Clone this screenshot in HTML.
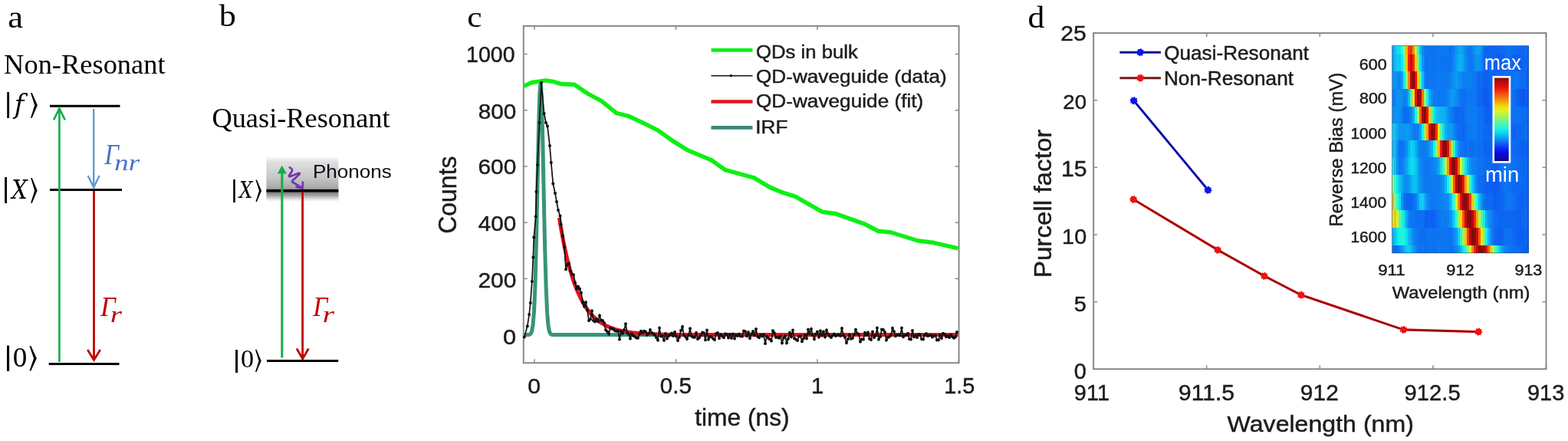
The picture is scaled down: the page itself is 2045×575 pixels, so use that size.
<!DOCTYPE html>
<html><head><meta charset="utf-8"><title>Figure</title>
<style>html,body{margin:0;padding:0;background:#fff;width:2045px;height:575px;overflow:hidden} svg{display:block}</style>
</head><body>
<svg width="2045" height="575" viewBox="0 0 2045 575"><line x1="65.00" y1="138.20" x2="156.50" y2="138.20" stroke="#000" stroke-width="3" />
<line x1="65.00" y1="247.40" x2="159.00" y2="247.40" stroke="#000" stroke-width="3" />
<line x1="63.70" y1="474.60" x2="155.50" y2="474.60" stroke="#000" stroke-width="3" />
<line x1="77.40" y1="472.00" x2="77.40" y2="141.50" stroke="#12ad4c" stroke-width="2.6" />
<polyline points="70.00,156.40 77.40,141.50 84.80,156.40" stroke="#12ad4c" stroke-width="2.6" fill="none"/>
<line x1="122.20" y1="142.00" x2="122.20" y2="244.00" stroke="#5b9bd5" stroke-width="2.4" />
<polyline points="114.70,229.00 122.20,244.30 129.70,229.00" stroke="#5b9bd5" stroke-width="2.4" fill="none"/>
<line x1="122.50" y1="249.00" x2="122.50" y2="468.00" stroke="#c00000" stroke-width="2.8" />
<polyline points="114.20,456.00 122.50,469.40 130.80,456.00" stroke="#c00000" stroke-width="2.8" fill="none"/>
<defs>
<linearGradient id="gb" x1="0" y1="0" x2="0" y2="1">
<stop offset="0" stop-color="#fafafa"/>
<stop offset="0.12" stop-color="#dedede"/>
<stop offset="0.45" stop-color="#c8c8c8"/>
<stop offset="0.68" stop-color="#aaaaaa"/>
<stop offset="0.76" stop-color="#707070"/>
<stop offset="0.86" stop-color="#a4a4a4"/>
<stop offset="0.95" stop-color="#e6e6e6"/>
<stop offset="1" stop-color="#ffffff"/>
</linearGradient>
</defs>
<rect x="347.4" y="204.8" width="94" height="58.2" fill="url(#gb)"/>
<line x1="347.40" y1="248.80" x2="441.40" y2="248.80" stroke="#000" stroke-width="3.5" />
<line x1="367.80" y1="466.40" x2="367.80" y2="222.00" stroke="#12ad4c" stroke-width="3.0" />
<polygon points="361.7,226.5 367.8,215.7 373.9,226.5" fill="#12ad4c"/>
<path d="M377.8,218.3 Q382.5,221 380.6,223.4 L377,229 Q376.5,230.6 378.6,229.9 L389.6,225.8 Q391.8,225.6 390.2,227.6 L381.4,235.6 Q380.2,237.2 382.4,238 L393.6,244.6" fill="none" stroke="#7434b0" stroke-width="2.7" stroke-linejoin="round" stroke-linecap="round"/>
<polyline points="386.6,243.8 394.6,245.6 395.0,237.6" fill="none" stroke="#7434b0" stroke-width="2.7" stroke-linejoin="round" stroke-linecap="round"/>
<line x1="394.60" y1="250.00" x2="394.60" y2="466.00" stroke="#c00000" stroke-width="2.8" />
<polyline points="387.00,454.50 394.70,468.00 402.40,454.50" stroke="#c00000" stroke-width="2.8" fill="none"/>
<line x1="348.00" y1="470.50" x2="441.20" y2="470.50" stroke="#000" stroke-width="3" />
<rect x="682.8" y="33.9" width="567.8" height="439.3" fill="none" stroke="#858585" stroke-width="1.9"/>
<line x1="682.80" y1="436.59" x2="687.80" y2="436.59" stroke="#858585" stroke-width="1.4" />
<line x1="1250.60" y1="436.59" x2="1245.60" y2="436.59" stroke="#858585" stroke-width="1.4" />
<line x1="682.80" y1="363.38" x2="687.80" y2="363.38" stroke="#858585" stroke-width="1.4" />
<line x1="1250.60" y1="363.38" x2="1245.60" y2="363.38" stroke="#858585" stroke-width="1.4" />
<line x1="682.80" y1="290.16" x2="687.80" y2="290.16" stroke="#858585" stroke-width="1.4" />
<line x1="1250.60" y1="290.16" x2="1245.60" y2="290.16" stroke="#858585" stroke-width="1.4" />
<line x1="682.80" y1="216.94" x2="687.80" y2="216.94" stroke="#858585" stroke-width="1.4" />
<line x1="1250.60" y1="216.94" x2="1245.60" y2="216.94" stroke="#858585" stroke-width="1.4" />
<line x1="682.80" y1="143.72" x2="687.80" y2="143.72" stroke="#858585" stroke-width="1.4" />
<line x1="1250.60" y1="143.72" x2="1245.60" y2="143.72" stroke="#858585" stroke-width="1.4" />
<line x1="682.80" y1="70.51" x2="687.80" y2="70.51" stroke="#858585" stroke-width="1.4" />
<line x1="1250.60" y1="70.51" x2="1245.60" y2="70.51" stroke="#858585" stroke-width="1.4" />
<line x1="697.00" y1="473.20" x2="697.00" y2="468.20" stroke="#858585" stroke-width="1.4" />
<line x1="697.00" y1="33.90" x2="697.00" y2="38.90" stroke="#858585" stroke-width="1.4" />
<line x1="881.50" y1="473.20" x2="881.50" y2="468.20" stroke="#858585" stroke-width="1.4" />
<line x1="881.50" y1="33.90" x2="881.50" y2="38.90" stroke="#858585" stroke-width="1.4" />
<line x1="1066.00" y1="473.20" x2="1066.00" y2="468.20" stroke="#858585" stroke-width="1.4" />
<line x1="1066.00" y1="33.90" x2="1066.00" y2="38.90" stroke="#858585" stroke-width="1.4" />
<line x1="1250.50" y1="473.20" x2="1250.50" y2="468.20" stroke="#858585" stroke-width="1.4" />
<line x1="1250.50" y1="33.90" x2="1250.50" y2="38.90" stroke="#858585" stroke-width="1.4" />
<polyline points="683.8,436.6 685.2,436.6 686.6,436.6 688.1,436.6 689.5,436.5 690.9,436.1 692.3,434.9 693.7,431.5 695.1,423.0 696.6,404.8 698.0,371.2 699.4,318.7 700.8,250.6 702.2,179.5 703.7,125.2 705.1,106.1 706.5,129.2 707.9,186.2 709.3,257.8 710.7,324.8 712.2,375.3 713.6,407.2 715.0,424.2 716.4,432.0 717.8,435.1 719.3,436.2 720.7,436.5 722.1,436.6 723.5,436.6 724.9,436.6 726.3,436.6 727.8,436.6 729.2,436.6 730.6,436.6 732.0,436.6 733.4,436.6 734.8,436.6 736.3,436.6 737.7,436.6 739.1,436.6 740.5,436.6 741.9,436.6 743.4,436.6 744.8,436.6 746.2,436.6 747.6,436.6 749.0,436.6 750.4,436.6 751.9,436.6 753.3,436.6 754.7,436.6 756.1,436.6 757.5,436.6 759.0,436.6 760.4,436.6 761.8,436.6 763.2,436.6 764.6,436.6 766.0,436.6 767.5,436.6 768.9,436.6 770.3,436.6 771.7,436.6 773.1,436.6 774.6,436.6 776.0,436.6 777.4,436.6 778.8,436.6 780.2,436.6 781.6,436.6 783.1,436.6 784.5,436.6 785.9,436.6 787.3,436.6 788.7,436.6 790.2,436.6 791.6,436.6 793.0,436.6 794.4,436.6 795.8,436.6 797.2,436.6 798.7,436.6 800.1,436.6 801.5,436.6 802.9,436.6 804.3,436.6 805.8,436.6 807.2,436.6 808.6,436.6 810.0,436.6 811.4,436.6 812.8,436.6 814.3,436.6 815.7,436.6 817.1,436.6 818.5,436.6 819.9,436.6 821.4,436.6 822.8,436.6 824.2,436.6 825.6,436.6 827.0,436.6 828.4,436.6 829.9,436.6 831.3,436.6 832.7,436.6 834.1,436.6 835.5,436.6 836.9,436.6 838.4,436.6 839.8,436.6 841.2,436.6 842.6,436.6 844.0,436.6 845.5,436.6 846.9,436.6 848.3,436.6 849.7,436.6 851.1,436.6 852.5,436.6 854.0,436.6 855.4,436.6 856.8,436.6 858.2,436.6 859.6,436.6 861.1,436.6 862.5,436.6 863.9,436.6 865.3,436.6 866.7,436.6 868.1,436.6 869.6,436.6 871.0,436.6 872.4,436.6 873.8,436.6 875.2,436.6 876.7,436.6 878.1,436.6 879.5,436.6 880.9,436.6 882.3,436.6 883.7,436.6 885.2,436.6 886.6,436.6 888.0,436.6 889.4,436.6 890.8,436.6 892.3,436.6 893.7,436.6 895.1,436.6 896.5,436.6 897.9,436.6 899.3,436.6 900.8,436.6 902.2,436.6 903.6,436.6 905.0,436.6 906.4,436.6 907.9,436.6 909.3,436.6 910.7,436.6 912.1,436.6 913.5,436.6 914.9,436.6 916.4,436.6 917.8,436.6 919.2,436.6 920.6,436.6 922.0,436.6 923.4,436.6 924.9,436.6 926.3,436.6 927.7,436.6 929.1,436.6 930.5,436.6 932.0,436.6 933.4,436.6 934.8,436.6 936.2,436.6 937.6,436.6 939.0,436.6 940.5,436.6 941.9,436.6 943.3,436.6 944.7,436.6 946.1,436.6 947.6,436.6 949.0,436.6 950.4,436.6 951.8,436.6 953.2,436.6 954.6,436.6 956.1,436.6 957.5,436.6 958.9,436.6 960.3,436.6 961.7,436.6 963.2,436.6 964.6,436.6 966.0,436.6 967.4,436.6 968.8,436.6 970.2,436.6 971.7,436.6 973.1,436.6 974.5,436.6 975.9,436.6 977.3,436.6 978.8,436.6 980.2,436.6 981.6,436.6 983.0,436.6 984.4,436.6 985.8,436.6 987.3,436.6 988.7,436.6 990.1,436.6 991.5,436.6 992.9,436.6 994.4,436.6 995.8,436.6 997.2,436.6 998.6,436.6 1000.0,436.6 1001.4,436.6 1002.9,436.6 1004.3,436.6 1005.7,436.6 1007.1,436.6 1008.5,436.6 1010.0,436.6 1011.4,436.6 1012.8,436.6 1014.2,436.6 1015.6,436.6 1017.0,436.6 1018.5,436.6 1019.9,436.6 1021.3,436.6 1022.7,436.6 1024.1,436.6 1025.5,436.6 1027.0,436.6 1028.4,436.6 1029.8,436.6 1031.2,436.6 1032.6,436.6 1034.1,436.6 1035.5,436.6 1036.9,436.6 1038.3,436.6 1039.7,436.6 1041.1,436.6 1042.6,436.6 1044.0,436.6 1045.4,436.6 1046.8,436.6 1048.2,436.6 1049.7,436.6 1051.1,436.6 1052.5,436.6 1053.9,436.6 1055.3,436.6 1056.7,436.6 1058.2,436.6 1059.6,436.6 1061.0,436.6 1062.4,436.6 1063.8,436.6 1065.3,436.6 1066.7,436.6 1068.1,436.6 1069.5,436.6 1070.9,436.6 1072.3,436.6 1073.8,436.6 1075.2,436.6 1076.6,436.6 1078.0,436.6 1079.4,436.6 1080.9,436.6 1082.3,436.6 1083.7,436.6 1085.1,436.6 1086.5,436.6 1087.9,436.6 1089.4,436.6 1090.8,436.6 1092.2,436.6 1093.6,436.6 1095.0,436.6 1096.5,436.6 1097.9,436.6 1099.3,436.6 1100.7,436.6 1102.1,436.6 1103.5,436.6 1105.0,436.6 1106.4,436.6 1107.8,436.6 1109.2,436.6 1110.6,436.6 1112.0,436.6 1113.5,436.6 1114.9,436.6 1116.3,436.6 1117.7,436.6 1119.1,436.6 1120.6,436.6 1122.0,436.6 1123.4,436.6 1124.8,436.6 1126.2,436.6 1127.6,436.6 1129.1,436.6 1130.5,436.6 1131.9,436.6 1133.3,436.6 1134.7,436.6 1136.2,436.6 1137.6,436.6 1139.0,436.6 1140.4,436.6 1141.8,436.6 1143.2,436.6 1144.7,436.6 1146.1,436.6 1147.5,436.6 1148.9,436.6 1150.3,436.6 1151.8,436.6 1153.2,436.6 1154.6,436.6 1156.0,436.6 1157.4,436.6 1158.8,436.6 1160.3,436.6 1161.7,436.6 1163.1,436.6 1164.5,436.6 1165.9,436.6 1167.4,436.6 1168.8,436.6 1170.2,436.6 1171.6,436.6 1173.0,436.6 1174.4,436.6 1175.9,436.6 1177.3,436.6 1178.7,436.6 1180.1,436.6 1181.5,436.6 1183.0,436.6 1184.4,436.6 1185.8,436.6 1187.2,436.6 1188.6,436.6 1190.0,436.6 1191.5,436.6 1192.9,436.6 1194.3,436.6 1195.7,436.6 1197.1,436.6 1198.6,436.6 1200.0,436.6 1201.4,436.6 1202.8,436.6 1204.2,436.6 1205.6,436.6 1207.1,436.6 1208.5,436.6 1209.9,436.6 1211.3,436.6 1212.7,436.6 1214.1,436.6 1215.6,436.6 1217.0,436.6 1218.4,436.6 1219.8,436.6 1221.2,436.6 1222.7,436.6 1224.1,436.6 1225.5,436.6 1226.9,436.6 1228.3,436.6 1229.7,436.6 1231.2,436.6 1232.6,436.6 1234.0,436.6 1235.4,436.6 1236.8,436.6 1238.3,436.6 1239.7,436.6 1241.1,436.6 1242.5,436.6 1243.9,436.6 1245.3,436.6 1246.8,436.6 1248.2,436.6 1249.6,436.6" fill="none" stroke="#38947a" stroke-width="5"/>
<polyline points="729.4,283.9 731.1,294.6 732.9,304.5 734.6,313.8 736.4,322.4 738.1,330.3 739.8,337.8 741.6,344.7 743.3,351.1 745.1,357.1 746.8,362.7 748.5,367.8 750.3,372.6 752.0,377.1 753.8,381.3 755.5,385.1 757.2,388.7 759.0,392.1 760.7,395.2 762.5,398.1 764.2,400.8 765.9,403.3 767.7,405.6 769.4,407.8 771.2,409.8 772.9,411.7 774.6,413.4 776.4,415.0 778.1,416.5 779.9,417.9 781.6,419.2 783.3,420.5 785.1,421.6 786.8,422.6 788.6,423.6 790.3,424.5 792.0,425.4 793.8,426.1 795.5,426.9 797.3,427.6 799.0,428.2 800.7,428.8 802.5,429.3 804.2,429.8 806.0,430.3 807.7,430.7 809.4,431.2 811.2,431.5 812.9,431.9 814.7,432.2 816.4,432.5 818.1,432.8 819.9,433.1 821.6,433.3 823.3,433.5 825.1,433.8 826.8,434.0 828.6,434.1 830.3,434.3 832.0,434.5 833.8,434.6 835.5,434.8 837.3,434.9 839.0,435.0 840.7,435.1 842.5,435.2 844.2,435.3 846.0,435.4 847.7,435.5 849.4,435.6 851.2,435.6 852.9,435.7 854.7,435.8 856.4,435.8 858.1,435.9 859.9,435.9 861.6,436.0 863.4,436.0 865.1,436.1 866.8,436.1 868.6,436.1 870.3,436.2 872.1,436.2 873.8,436.2 875.5,436.2 877.3,436.3 879.0,436.3 880.8,436.3 882.5,436.3 884.2,436.4 886.0,436.4 887.7,436.4 889.5,436.4 891.2,436.4 892.9,436.4 894.7,436.4 896.4,436.4 898.2,436.5 899.9,436.5 901.6,436.5 903.4,436.5 905.1,436.5 906.9,436.5 908.6,436.5 910.3,436.5 912.1,436.5 913.8,436.5 915.6,436.5 917.3,436.5 919.0,436.5 920.8,436.5 922.5,436.5 924.3,436.5 926.0,436.5 927.7,436.6 929.5,436.6 931.2,436.6 933.0,436.6 934.7,436.6 936.4,436.6 938.2,436.6 939.9,436.6 941.7,436.6 943.4,436.6 945.1,436.6 946.9,436.6 948.6,436.6 950.4,436.6 952.1,436.6 953.8,436.6 955.6,436.6 957.3,436.6 959.1,436.6 960.8,436.6 962.5,436.6 964.3,436.6 966.0,436.6 967.8,436.6 969.5,436.6 971.2,436.6 973.0,436.6 974.7,436.6 976.5,436.6 978.2,436.6 979.9,436.6 981.7,436.6 983.4,436.6 985.2,436.6 986.9,436.6 988.6,436.6 990.4,436.6 992.1,436.6 993.8,436.6 995.6,436.6 997.3,436.6 999.1,436.6 1000.8,436.6 1002.5,436.6 1004.3,436.6 1006.0,436.6 1007.8,436.6 1009.5,436.6 1011.2,436.6 1013.0,436.6 1014.7,436.6 1016.5,436.6 1018.2,436.6 1019.9,436.6 1021.7,436.6 1023.4,436.6 1025.2,436.6 1026.9,436.6 1028.6,436.6 1030.4,436.6 1032.1,436.6 1033.9,436.6 1035.6,436.6 1037.3,436.6 1039.1,436.6 1040.8,436.6 1042.6,436.6 1044.3,436.6 1046.0,436.6 1047.8,436.6 1049.5,436.6 1051.3,436.6 1053.0,436.6 1054.7,436.6 1056.5,436.6 1058.2,436.6 1060.0,436.6 1061.7,436.6 1063.4,436.6 1065.2,436.6 1066.9,436.6 1068.7,436.6 1070.4,436.6 1072.1,436.6 1073.9,436.6 1075.6,436.6 1077.4,436.6 1079.1,436.6 1080.8,436.6 1082.6,436.6 1084.3,436.6 1086.1,436.6 1087.8,436.6 1089.5,436.6 1091.3,436.6 1093.0,436.6 1094.8,436.6 1096.5,436.6 1098.2,436.6 1100.0,436.6 1101.7,436.6 1103.5,436.6 1105.2,436.6 1106.9,436.6 1108.7,436.6 1110.4,436.6 1112.2,436.6 1113.9,436.6 1115.6,436.6 1117.4,436.6 1119.1,436.6 1120.9,436.6 1122.6,436.6 1124.3,436.6 1126.1,436.6 1127.8,436.6 1129.6,436.6 1131.3,436.6 1133.0,436.6 1134.8,436.6 1136.5,436.6 1138.3,436.6 1140.0,436.6 1141.7,436.6 1143.5,436.6 1145.2,436.6 1147.0,436.6 1148.7,436.6 1150.4,436.6 1152.2,436.6 1153.9,436.6 1155.7,436.6 1157.4,436.6 1159.1,436.6 1160.9,436.6 1162.6,436.6 1164.3,436.6 1166.1,436.6 1167.8,436.6 1169.6,436.6 1171.3,436.6 1173.0,436.6 1174.8,436.6 1176.5,436.6 1178.3,436.6 1180.0,436.6 1181.7,436.6 1183.5,436.6 1185.2,436.6 1187.0,436.6 1188.7,436.6 1190.4,436.6 1192.2,436.6 1193.9,436.6 1195.7,436.6 1197.4,436.6 1199.1,436.6 1200.9,436.6 1202.6,436.6 1204.4,436.6 1206.1,436.6 1207.8,436.6 1209.6,436.6 1211.3,436.6 1213.1,436.6 1214.8,436.6 1216.5,436.6 1218.3,436.6 1220.0,436.6 1221.8,436.6 1223.5,436.6 1225.2,436.6 1227.0,436.6 1228.7,436.6 1230.5,436.6 1232.2,436.6 1233.9,436.6 1235.7,436.6 1237.4,436.6 1239.2,436.6 1240.9,436.6 1242.6,436.6 1244.4,436.6 1246.1,436.6 1247.9,436.6 1249.6,436.6" fill="none" stroke="#e0141c" stroke-width="5"/>
<polyline points="683.5,112.2 693.0,107.7 711.3,104.9 721.7,106.4 732.2,109.6 749.1,110.3 766.1,121.8 784.4,131.7 803.9,147.4 819.6,151.3 839.1,160.4 857.4,169.6 875.7,182.6 896.5,195.7 927.8,208.7 946.1,221.7 960.0,225.3 983.5,231.8 1004.4,244.4 1020.0,250.9 1037.0,256.1 1072.2,276.2 1090.4,278.8 1127.0,291.8 1145.2,301.2 1162.2,303.0 1197.4,314.0 1218.3,316.6 1249.6,323.9" fill="none" stroke="#0cf014" stroke-width="5.5" stroke-linejoin="round"/>
<polyline points="683.8,439.5 687.8,425.3 690.2,410.0 691.8,394.9 693.9,366.9 695.4,335.5 696.3,309.6 698.8,282.2 699.5,250.0 701.0,215.0 703.5,160.0 706.0,107.8 709.6,148.0 712.0,160.0 714.0,164.5 717.0,190.0 718.8,212.0 721.3,239.5 724.0,252.0 726.0,263.0 728.0,274.0 730.5,281.6 731.6,292.6 734.0,308.0 736.0,321.9 738.0,351.3 740.0,344.4 742.0,343.6 744.0,353.4 746.0,357.5 748.0,358.2 750.0,368.4 752.0,376.5 754.0,373.5 756.0,376.4 758.0,381.7 760.0,394.2 762.0,399.6 764.0,394.2 766.0,404.4 768.0,418.0 770.0,416.2 772.0,405.2 774.0,418.0 776.0,419.5 778.0,416.0 780.0,419.2 782.0,411.4 784.0,417.5 786.0,417.9 788.0,420.9 790.0,430.3 792.0,432.2 794.0,435.5 796.0,427.7 798.0,428.4 800.0,428.7 802.0,431.3 804.0,431.7 806.0,431.4 808.0,442.5 810.0,431.9 812.0,434.8 814.0,429.9 816.0,422.3 818.0,434.0 820.0,435.7 822.0,441.6 824.0,435.2 826.0,437.7 828.0,438.8 830.0,440.6 832.0,440.8 834.0,435.4 836.0,431.7 838.0,433.9 840.0,431.7 842.0,432.5 844.0,436.7 846.0,434.7 848.0,430.0 850.0,434.0 852.0,435.1 854.0,436.7 856.0,440.2 858.0,443.6 860.0,427.6 862.0,438.4 864.0,437.9 866.0,443.7 868.0,435.2 870.0,441.5 872.0,437.9 874.0,436.3 876.0,434.6 878.0,437.9 880.0,432.9 882.0,438.4 884.0,443.9 886.0,439.7 888.0,431.1 890.0,425.9 892.0,437.0 894.0,439.1 896.0,442.1 898.0,436.9 900.0,428.3 902.0,438.3 904.0,439.8 906.0,439.7 908.0,434.0 910.0,442.1 912.0,440.2 914.0,437.5 916.0,433.4 918.0,434.3 920.0,443.2 922.0,430.4 924.0,442.6 926.0,439.0 928.0,439.0 930.0,441.6 932.0,442.9 934.0,434.9 936.0,434.1 938.0,441.1 940.0,436.0 942.0,438.2 944.0,440.2 946.0,435.2 948.0,436.1 950.0,440.4 952.0,435.8 954.0,440.7 956.0,435.5 958.0,441.4 960.0,436.7 962.0,437.9 964.0,435.6 966.0,438.5 968.0,438.5 970.0,431.4 972.0,432.2 974.0,438.2 976.0,433.3 978.0,440.9 980.0,435.6 982.0,432.1 984.0,437.2 986.0,429.1 988.0,438.8 990.0,440.2 992.0,436.6 994.0,438.6 996.0,435.9 998.0,448.1 1000.0,438.8 1002.0,440.8 1004.0,442.3 1006.0,444.6 1008.0,431.3 1010.0,434.3 1012.0,440.1 1014.0,439.6 1016.0,440.8 1018.0,438.6 1020.0,447.3 1022.0,440.8 1024.0,438.0 1026.0,447.2 1028.0,441.7 1030.0,433.7 1032.0,439.3 1034.0,430.6 1036.0,441.3 1038.0,442.4 1040.0,444.1 1042.0,438.6 1044.0,438.3 1046.0,445.2 1048.0,441.3 1050.0,436.9 1052.0,441.2 1054.0,429.8 1056.0,434.9 1058.0,428.9 1060.0,437.1 1062.0,442.2 1064.0,435.5 1066.0,432.5 1068.0,439.4 1070.0,431.5 1072.0,437.6 1074.0,432.6 1076.0,439.3 1078.0,430.4 1080.0,435.4 1082.0,438.2 1084.0,440.1 1086.0,437.3 1088.0,435.6 1090.0,437.9 1092.0,437.1 1094.0,436.5 1096.0,438.1 1098.0,428.0 1100.0,437.2 1102.0,439.8 1104.0,447.1 1106.0,442.1 1108.0,436.8 1110.0,441.7 1112.0,440.7 1114.0,436.1 1116.0,429.8 1118.0,434.5 1120.0,435.7 1122.0,445.4 1124.0,442.2 1126.0,442.5 1128.0,433.7 1130.0,436.8 1132.0,433.5 1134.0,441.7 1136.0,442.9 1138.0,432.5 1140.0,440.0 1142.0,437.7 1144.0,427.6 1146.0,442.5 1148.0,438.9 1150.0,429.5 1152.0,429.9 1154.0,433.1 1156.0,443.5 1158.0,440.1 1160.0,438.9 1162.0,437.0 1164.0,427.8 1166.0,432.2 1168.0,438.3 1170.0,436.7 1172.0,436.5 1174.0,437.5 1176.0,427.6 1178.0,439.2 1180.0,437.3 1182.0,436.8 1184.0,434.7 1186.0,442.1 1188.0,442.5 1190.0,431.1 1192.0,439.3 1194.0,437.3 1196.0,440.0 1198.0,435.9 1200.0,436.6 1202.0,442.1 1204.0,442.5 1206.0,436.8 1208.0,435.1 1210.0,437.9 1212.0,437.6 1214.0,437.0 1216.0,439.5 1218.0,437.7 1220.0,437.4 1222.0,443.6 1224.0,443.2 1226.0,436.7 1228.0,441.0 1230.0,434.7 1232.0,435.8 1234.0,439.2 1236.0,438.1 1238.0,440.1 1240.0,436.5 1242.0,438.9 1244.0,440.8 1246.0,439.5 1248.0,432.9" fill="none" stroke="#111" stroke-width="1.7"/>
<g fill="#111"><circle cx="683.8" cy="439.5" r="2.0"/><circle cx="687.8" cy="425.3" r="2.0"/><circle cx="690.2" cy="410.0" r="2.0"/><circle cx="691.8" cy="394.9" r="2.0"/><circle cx="693.9" cy="366.9" r="2.0"/><circle cx="695.4" cy="335.5" r="2.0"/><circle cx="696.3" cy="309.6" r="2.0"/><circle cx="698.8" cy="282.2" r="2.0"/><circle cx="699.5" cy="250.0" r="2.0"/><circle cx="701.0" cy="215.0" r="2.0"/><circle cx="703.5" cy="160.0" r="2.0"/><circle cx="706.0" cy="107.8" r="2.0"/><circle cx="709.6" cy="148.0" r="2.0"/><circle cx="712.0" cy="160.0" r="2.0"/><circle cx="714.0" cy="164.5" r="2.0"/><circle cx="717.0" cy="190.0" r="2.0"/><circle cx="718.8" cy="212.0" r="2.0"/><circle cx="721.3" cy="239.5" r="2.0"/><circle cx="724.0" cy="252.0" r="2.0"/><circle cx="726.0" cy="263.0" r="2.0"/><circle cx="728.0" cy="274.0" r="2.0"/><circle cx="730.5" cy="281.6" r="2.0"/><circle cx="731.6" cy="292.6" r="2.0"/><circle cx="734.0" cy="308.0" r="2.0"/><circle cx="736.0" cy="321.9" r="2.0"/><circle cx="738.0" cy="351.3" r="2.0"/><circle cx="740.0" cy="344.4" r="2.0"/><circle cx="742.0" cy="343.6" r="2.0"/><circle cx="744.0" cy="353.4" r="2.0"/><circle cx="746.0" cy="357.5" r="2.0"/><circle cx="748.0" cy="358.2" r="2.0"/><circle cx="750.0" cy="368.4" r="2.0"/><circle cx="752.0" cy="376.5" r="2.0"/><circle cx="754.0" cy="373.5" r="2.0"/><circle cx="756.0" cy="376.4" r="2.0"/><circle cx="758.0" cy="381.7" r="2.0"/><circle cx="760.0" cy="394.2" r="2.0"/><circle cx="762.0" cy="399.6" r="2.0"/><circle cx="764.0" cy="394.2" r="2.0"/><circle cx="766.0" cy="404.4" r="2.0"/><circle cx="768.0" cy="418.0" r="2.0"/><circle cx="770.0" cy="416.2" r="2.0"/><circle cx="772.0" cy="405.2" r="2.0"/><circle cx="774.0" cy="418.0" r="2.0"/><circle cx="776.0" cy="419.5" r="2.0"/><circle cx="778.0" cy="416.0" r="2.0"/><circle cx="780.0" cy="419.2" r="2.0"/><circle cx="782.0" cy="411.4" r="2.0"/><circle cx="784.0" cy="417.5" r="2.0"/><circle cx="786.0" cy="417.9" r="2.0"/><circle cx="788.0" cy="420.9" r="2.0"/><circle cx="790.0" cy="430.3" r="2.0"/><circle cx="792.0" cy="432.2" r="2.0"/><circle cx="794.0" cy="435.5" r="2.0"/><circle cx="796.0" cy="427.7" r="2.0"/><circle cx="798.0" cy="428.4" r="2.0"/><circle cx="800.0" cy="428.7" r="2.0"/><circle cx="802.0" cy="431.3" r="2.0"/><circle cx="804.0" cy="431.7" r="2.0"/><circle cx="806.0" cy="431.4" r="2.0"/><circle cx="808.0" cy="442.5" r="2.0"/><circle cx="810.0" cy="431.9" r="2.0"/><circle cx="812.0" cy="434.8" r="2.0"/><circle cx="814.0" cy="429.9" r="2.0"/><circle cx="816.0" cy="422.3" r="2.0"/><circle cx="818.0" cy="434.0" r="2.0"/><circle cx="820.0" cy="435.7" r="2.0"/><circle cx="822.0" cy="441.6" r="2.0"/><circle cx="824.0" cy="435.2" r="2.0"/><circle cx="826.0" cy="437.7" r="2.0"/><circle cx="828.0" cy="438.8" r="2.0"/><circle cx="830.0" cy="440.6" r="2.0"/><circle cx="832.0" cy="440.8" r="2.0"/><circle cx="834.0" cy="435.4" r="2.0"/><circle cx="836.0" cy="431.7" r="2.0"/><circle cx="838.0" cy="433.9" r="2.0"/><circle cx="840.0" cy="431.7" r="2.0"/><circle cx="842.0" cy="432.5" r="2.0"/><circle cx="844.0" cy="436.7" r="2.0"/><circle cx="846.0" cy="434.7" r="2.0"/><circle cx="848.0" cy="430.0" r="2.0"/><circle cx="850.0" cy="434.0" r="2.0"/><circle cx="852.0" cy="435.1" r="2.0"/><circle cx="854.0" cy="436.7" r="2.0"/><circle cx="856.0" cy="440.2" r="2.0"/><circle cx="858.0" cy="443.6" r="2.0"/><circle cx="860.0" cy="427.6" r="2.0"/><circle cx="862.0" cy="438.4" r="2.0"/><circle cx="864.0" cy="437.9" r="2.0"/><circle cx="866.0" cy="443.7" r="2.0"/><circle cx="868.0" cy="435.2" r="2.0"/><circle cx="870.0" cy="441.5" r="2.0"/><circle cx="872.0" cy="437.9" r="2.0"/><circle cx="874.0" cy="436.3" r="2.0"/><circle cx="876.0" cy="434.6" r="2.0"/><circle cx="878.0" cy="437.9" r="2.0"/><circle cx="880.0" cy="432.9" r="2.0"/><circle cx="882.0" cy="438.4" r="2.0"/><circle cx="884.0" cy="443.9" r="2.0"/><circle cx="886.0" cy="439.7" r="2.0"/><circle cx="888.0" cy="431.1" r="2.0"/><circle cx="890.0" cy="425.9" r="2.0"/><circle cx="892.0" cy="437.0" r="2.0"/><circle cx="894.0" cy="439.1" r="2.0"/><circle cx="896.0" cy="442.1" r="2.0"/><circle cx="898.0" cy="436.9" r="2.0"/><circle cx="900.0" cy="428.3" r="2.0"/><circle cx="902.0" cy="438.3" r="2.0"/><circle cx="904.0" cy="439.8" r="2.0"/><circle cx="906.0" cy="439.7" r="2.0"/><circle cx="908.0" cy="434.0" r="2.0"/><circle cx="910.0" cy="442.1" r="2.0"/><circle cx="912.0" cy="440.2" r="2.0"/><circle cx="914.0" cy="437.5" r="2.0"/><circle cx="916.0" cy="433.4" r="2.0"/><circle cx="918.0" cy="434.3" r="2.0"/><circle cx="920.0" cy="443.2" r="2.0"/><circle cx="922.0" cy="430.4" r="2.0"/><circle cx="924.0" cy="442.6" r="2.0"/><circle cx="926.0" cy="439.0" r="2.0"/><circle cx="928.0" cy="439.0" r="2.0"/><circle cx="930.0" cy="441.6" r="2.0"/><circle cx="932.0" cy="442.9" r="2.0"/><circle cx="934.0" cy="434.9" r="2.0"/><circle cx="936.0" cy="434.1" r="2.0"/><circle cx="938.0" cy="441.1" r="2.0"/><circle cx="940.0" cy="436.0" r="2.0"/><circle cx="942.0" cy="438.2" r="2.0"/><circle cx="944.0" cy="440.2" r="2.0"/><circle cx="946.0" cy="435.2" r="2.0"/><circle cx="948.0" cy="436.1" r="2.0"/><circle cx="950.0" cy="440.4" r="2.0"/><circle cx="952.0" cy="435.8" r="2.0"/><circle cx="954.0" cy="440.7" r="2.0"/><circle cx="956.0" cy="435.5" r="2.0"/><circle cx="958.0" cy="441.4" r="2.0"/><circle cx="960.0" cy="436.7" r="2.0"/><circle cx="962.0" cy="437.9" r="2.0"/><circle cx="964.0" cy="435.6" r="2.0"/><circle cx="966.0" cy="438.5" r="2.0"/><circle cx="968.0" cy="438.5" r="2.0"/><circle cx="970.0" cy="431.4" r="2.0"/><circle cx="972.0" cy="432.2" r="2.0"/><circle cx="974.0" cy="438.2" r="2.0"/><circle cx="976.0" cy="433.3" r="2.0"/><circle cx="978.0" cy="440.9" r="2.0"/><circle cx="980.0" cy="435.6" r="2.0"/><circle cx="982.0" cy="432.1" r="2.0"/><circle cx="984.0" cy="437.2" r="2.0"/><circle cx="986.0" cy="429.1" r="2.0"/><circle cx="988.0" cy="438.8" r="2.0"/><circle cx="990.0" cy="440.2" r="2.0"/><circle cx="992.0" cy="436.6" r="2.0"/><circle cx="994.0" cy="438.6" r="2.0"/><circle cx="996.0" cy="435.9" r="2.0"/><circle cx="998.0" cy="448.1" r="2.0"/><circle cx="1000.0" cy="438.8" r="2.0"/><circle cx="1002.0" cy="440.8" r="2.0"/><circle cx="1004.0" cy="442.3" r="2.0"/><circle cx="1006.0" cy="444.6" r="2.0"/><circle cx="1008.0" cy="431.3" r="2.0"/><circle cx="1010.0" cy="434.3" r="2.0"/><circle cx="1012.0" cy="440.1" r="2.0"/><circle cx="1014.0" cy="439.6" r="2.0"/><circle cx="1016.0" cy="440.8" r="2.0"/><circle cx="1018.0" cy="438.6" r="2.0"/><circle cx="1020.0" cy="447.3" r="2.0"/><circle cx="1022.0" cy="440.8" r="2.0"/><circle cx="1024.0" cy="438.0" r="2.0"/><circle cx="1026.0" cy="447.2" r="2.0"/><circle cx="1028.0" cy="441.7" r="2.0"/><circle cx="1030.0" cy="433.7" r="2.0"/><circle cx="1032.0" cy="439.3" r="2.0"/><circle cx="1034.0" cy="430.6" r="2.0"/><circle cx="1036.0" cy="441.3" r="2.0"/><circle cx="1038.0" cy="442.4" r="2.0"/><circle cx="1040.0" cy="444.1" r="2.0"/><circle cx="1042.0" cy="438.6" r="2.0"/><circle cx="1044.0" cy="438.3" r="2.0"/><circle cx="1046.0" cy="445.2" r="2.0"/><circle cx="1048.0" cy="441.3" r="2.0"/><circle cx="1050.0" cy="436.9" r="2.0"/><circle cx="1052.0" cy="441.2" r="2.0"/><circle cx="1054.0" cy="429.8" r="2.0"/><circle cx="1056.0" cy="434.9" r="2.0"/><circle cx="1058.0" cy="428.9" r="2.0"/><circle cx="1060.0" cy="437.1" r="2.0"/><circle cx="1062.0" cy="442.2" r="2.0"/><circle cx="1064.0" cy="435.5" r="2.0"/><circle cx="1066.0" cy="432.5" r="2.0"/><circle cx="1068.0" cy="439.4" r="2.0"/><circle cx="1070.0" cy="431.5" r="2.0"/><circle cx="1072.0" cy="437.6" r="2.0"/><circle cx="1074.0" cy="432.6" r="2.0"/><circle cx="1076.0" cy="439.3" r="2.0"/><circle cx="1078.0" cy="430.4" r="2.0"/><circle cx="1080.0" cy="435.4" r="2.0"/><circle cx="1082.0" cy="438.2" r="2.0"/><circle cx="1084.0" cy="440.1" r="2.0"/><circle cx="1086.0" cy="437.3" r="2.0"/><circle cx="1088.0" cy="435.6" r="2.0"/><circle cx="1090.0" cy="437.9" r="2.0"/><circle cx="1092.0" cy="437.1" r="2.0"/><circle cx="1094.0" cy="436.5" r="2.0"/><circle cx="1096.0" cy="438.1" r="2.0"/><circle cx="1098.0" cy="428.0" r="2.0"/><circle cx="1100.0" cy="437.2" r="2.0"/><circle cx="1102.0" cy="439.8" r="2.0"/><circle cx="1104.0" cy="447.1" r="2.0"/><circle cx="1106.0" cy="442.1" r="2.0"/><circle cx="1108.0" cy="436.8" r="2.0"/><circle cx="1110.0" cy="441.7" r="2.0"/><circle cx="1112.0" cy="440.7" r="2.0"/><circle cx="1114.0" cy="436.1" r="2.0"/><circle cx="1116.0" cy="429.8" r="2.0"/><circle cx="1118.0" cy="434.5" r="2.0"/><circle cx="1120.0" cy="435.7" r="2.0"/><circle cx="1122.0" cy="445.4" r="2.0"/><circle cx="1124.0" cy="442.2" r="2.0"/><circle cx="1126.0" cy="442.5" r="2.0"/><circle cx="1128.0" cy="433.7" r="2.0"/><circle cx="1130.0" cy="436.8" r="2.0"/><circle cx="1132.0" cy="433.5" r="2.0"/><circle cx="1134.0" cy="441.7" r="2.0"/><circle cx="1136.0" cy="442.9" r="2.0"/><circle cx="1138.0" cy="432.5" r="2.0"/><circle cx="1140.0" cy="440.0" r="2.0"/><circle cx="1142.0" cy="437.7" r="2.0"/><circle cx="1144.0" cy="427.6" r="2.0"/><circle cx="1146.0" cy="442.5" r="2.0"/><circle cx="1148.0" cy="438.9" r="2.0"/><circle cx="1150.0" cy="429.5" r="2.0"/><circle cx="1152.0" cy="429.9" r="2.0"/><circle cx="1154.0" cy="433.1" r="2.0"/><circle cx="1156.0" cy="443.5" r="2.0"/><circle cx="1158.0" cy="440.1" r="2.0"/><circle cx="1160.0" cy="438.9" r="2.0"/><circle cx="1162.0" cy="437.0" r="2.0"/><circle cx="1164.0" cy="427.8" r="2.0"/><circle cx="1166.0" cy="432.2" r="2.0"/><circle cx="1168.0" cy="438.3" r="2.0"/><circle cx="1170.0" cy="436.7" r="2.0"/><circle cx="1172.0" cy="436.5" r="2.0"/><circle cx="1174.0" cy="437.5" r="2.0"/><circle cx="1176.0" cy="427.6" r="2.0"/><circle cx="1178.0" cy="439.2" r="2.0"/><circle cx="1180.0" cy="437.3" r="2.0"/><circle cx="1182.0" cy="436.8" r="2.0"/><circle cx="1184.0" cy="434.7" r="2.0"/><circle cx="1186.0" cy="442.1" r="2.0"/><circle cx="1188.0" cy="442.5" r="2.0"/><circle cx="1190.0" cy="431.1" r="2.0"/><circle cx="1192.0" cy="439.3" r="2.0"/><circle cx="1194.0" cy="437.3" r="2.0"/><circle cx="1196.0" cy="440.0" r="2.0"/><circle cx="1198.0" cy="435.9" r="2.0"/><circle cx="1200.0" cy="436.6" r="2.0"/><circle cx="1202.0" cy="442.1" r="2.0"/><circle cx="1204.0" cy="442.5" r="2.0"/><circle cx="1206.0" cy="436.8" r="2.0"/><circle cx="1208.0" cy="435.1" r="2.0"/><circle cx="1210.0" cy="437.9" r="2.0"/><circle cx="1212.0" cy="437.6" r="2.0"/><circle cx="1214.0" cy="437.0" r="2.0"/><circle cx="1216.0" cy="439.5" r="2.0"/><circle cx="1218.0" cy="437.7" r="2.0"/><circle cx="1220.0" cy="437.4" r="2.0"/><circle cx="1222.0" cy="443.6" r="2.0"/><circle cx="1224.0" cy="443.2" r="2.0"/><circle cx="1226.0" cy="436.7" r="2.0"/><circle cx="1228.0" cy="441.0" r="2.0"/><circle cx="1230.0" cy="434.7" r="2.0"/><circle cx="1232.0" cy="435.8" r="2.0"/><circle cx="1234.0" cy="439.2" r="2.0"/><circle cx="1236.0" cy="438.1" r="2.0"/><circle cx="1238.0" cy="440.1" r="2.0"/><circle cx="1240.0" cy="436.5" r="2.0"/><circle cx="1242.0" cy="438.9" r="2.0"/><circle cx="1244.0" cy="440.8" r="2.0"/><circle cx="1246.0" cy="439.5" r="2.0"/><circle cx="1248.0" cy="432.9" r="2.0"/></g>
<line x1="927.50" y1="65.40" x2="981.50" y2="65.40" stroke="#0cf014" stroke-width="4.6" />
<line x1="927.50" y1="98.80" x2="981.50" y2="98.80" stroke="#111" stroke-width="1.4" />
<line x1="927.50" y1="132.50" x2="981.50" y2="132.50" stroke="#e0141c" stroke-width="4.6" />
<line x1="927.50" y1="166.40" x2="981.50" y2="166.40" stroke="#38887a" stroke-width="4.6" />
<circle cx="953.4" cy="98.8" r="1.8" fill="#111"/>
<rect x="1426.2" y="43.1" width="590.3" height="438.09999999999997" fill="none" stroke="#858585" stroke-width="1.9"/>
<line x1="1426.20" y1="481.20" x2="1431.20" y2="481.20" stroke="#858585" stroke-width="1.4" />
<line x1="2016.50" y1="481.20" x2="2011.50" y2="481.20" stroke="#858585" stroke-width="1.4" />
<line x1="1426.20" y1="393.58" x2="1431.20" y2="393.58" stroke="#858585" stroke-width="1.4" />
<line x1="2016.50" y1="393.58" x2="2011.50" y2="393.58" stroke="#858585" stroke-width="1.4" />
<line x1="1426.20" y1="305.96" x2="1431.20" y2="305.96" stroke="#858585" stroke-width="1.4" />
<line x1="2016.50" y1="305.96" x2="2011.50" y2="305.96" stroke="#858585" stroke-width="1.4" />
<line x1="1426.20" y1="218.34" x2="1431.20" y2="218.34" stroke="#858585" stroke-width="1.4" />
<line x1="2016.50" y1="218.34" x2="2011.50" y2="218.34" stroke="#858585" stroke-width="1.4" />
<line x1="1426.20" y1="130.72" x2="1431.20" y2="130.72" stroke="#858585" stroke-width="1.4" />
<line x1="2016.50" y1="130.72" x2="2011.50" y2="130.72" stroke="#858585" stroke-width="1.4" />
<line x1="1426.20" y1="43.10" x2="1431.20" y2="43.10" stroke="#858585" stroke-width="1.4" />
<line x1="2016.50" y1="43.10" x2="2011.50" y2="43.10" stroke="#858585" stroke-width="1.4" />
<line x1="1426.20" y1="481.20" x2="1426.20" y2="476.20" stroke="#858585" stroke-width="1.4" />
<line x1="1426.20" y1="43.10" x2="1426.20" y2="48.10" stroke="#858585" stroke-width="1.4" />
<line x1="1573.78" y1="481.20" x2="1573.78" y2="476.20" stroke="#858585" stroke-width="1.4" />
<line x1="1573.78" y1="43.10" x2="1573.78" y2="48.10" stroke="#858585" stroke-width="1.4" />
<line x1="1721.35" y1="481.20" x2="1721.35" y2="476.20" stroke="#858585" stroke-width="1.4" />
<line x1="1721.35" y1="43.10" x2="1721.35" y2="48.10" stroke="#858585" stroke-width="1.4" />
<line x1="1868.92" y1="481.20" x2="1868.92" y2="476.20" stroke="#858585" stroke-width="1.4" />
<line x1="1868.92" y1="43.10" x2="1868.92" y2="48.10" stroke="#858585" stroke-width="1.4" />
<line x1="2016.50" y1="481.20" x2="2016.50" y2="476.20" stroke="#858585" stroke-width="1.4" />
<line x1="2016.50" y1="43.10" x2="2016.50" y2="48.10" stroke="#858585" stroke-width="1.4" />
<polyline points="1478.70,131.20 1575.50,247.80" stroke="#1414c8" stroke-width="3.0" fill="none"/>
<polyline points="1478.70,131.20 1575.50,247.80" stroke="#0a0a60" stroke-width="0.9" fill="none"/>
<polyline points="1478.30,260.00 1588.20,325.90 1649.00,359.90 1696.90,384.60 1830.50,429.90 1928.30,432.60" stroke="#d81414" stroke-width="3.2" fill="none"/>
<polyline points="1478.30,260.00 1588.20,325.90 1649.00,359.90 1696.90,384.60 1830.50,429.90 1928.30,432.60" stroke="#5a0808" stroke-width="1.0" fill="none"/>
<polygon points="1484.19,132.29 1481.69,133.20 1481.81,135.86 1479.40,134.73 1477.61,136.69 1476.70,134.19 1474.04,134.31 1475.17,131.90 1473.21,130.11 1475.71,129.20 1475.59,126.54 1478.00,127.67 1479.79,125.71 1480.70,128.21 1483.36,128.09 1482.23,130.50" fill="#0a14f0"/><circle cx="1478.7" cy="131.2" r="4.2" fill="#0a14f0"/>
<polygon points="1580.99,248.89 1578.49,249.80 1578.61,252.46 1576.20,251.33 1574.41,253.29 1573.50,250.79 1570.84,250.91 1571.97,248.50 1570.01,246.71 1572.51,245.80 1572.39,243.14 1574.80,244.27 1576.59,242.31 1577.50,244.81 1580.16,244.69 1579.03,247.10" fill="#0a14f0"/><circle cx="1575.5" cy="247.8" r="4.2" fill="#0a14f0"/>
<polygon points="1483.79,261.09 1481.29,262.00 1481.41,264.66 1479.00,263.53 1477.21,265.49 1476.30,262.99 1473.64,263.11 1474.77,260.70 1472.81,258.91 1475.31,258.00 1475.19,255.34 1477.60,256.47 1479.39,254.51 1480.30,257.01 1482.96,256.89 1481.83,259.30" fill="#f01010"/><circle cx="1478.3" cy="260" r="4.2" fill="#f01010"/>
<polygon points="1593.69,326.99 1591.19,327.90 1591.31,330.56 1588.90,329.43 1587.11,331.39 1586.20,328.89 1583.54,329.01 1584.67,326.60 1582.71,324.81 1585.21,323.90 1585.09,321.24 1587.50,322.37 1589.29,320.41 1590.20,322.91 1592.86,322.79 1591.73,325.20" fill="#f01010"/><circle cx="1588.2" cy="325.9" r="4.2" fill="#f01010"/>
<polygon points="1654.49,360.99 1651.99,361.90 1652.11,364.56 1649.70,363.43 1647.91,365.39 1647.00,362.89 1644.34,363.01 1645.47,360.60 1643.51,358.81 1646.01,357.90 1645.89,355.24 1648.30,356.37 1650.09,354.41 1651.00,356.91 1653.66,356.79 1652.53,359.20" fill="#f01010"/><circle cx="1649" cy="359.9" r="4.2" fill="#f01010"/>
<polygon points="1702.39,385.69 1699.89,386.60 1700.01,389.26 1697.60,388.13 1695.81,390.09 1694.90,387.59 1692.24,387.71 1693.37,385.30 1691.41,383.51 1693.91,382.60 1693.79,379.94 1696.20,381.07 1697.99,379.11 1698.90,381.61 1701.56,381.49 1700.43,383.90" fill="#f01010"/><circle cx="1696.9" cy="384.6" r="4.2" fill="#f01010"/>
<polygon points="1835.99,430.99 1833.49,431.90 1833.61,434.56 1831.20,433.43 1829.41,435.39 1828.50,432.89 1825.84,433.01 1826.97,430.60 1825.01,428.81 1827.51,427.90 1827.39,425.24 1829.80,426.37 1831.59,424.41 1832.50,426.91 1835.16,426.79 1834.03,429.20" fill="#f01010"/><circle cx="1830.5" cy="429.9" r="4.2" fill="#f01010"/>
<polygon points="1933.79,433.69 1931.29,434.60 1931.41,437.26 1929.00,436.13 1927.21,438.09 1926.30,435.59 1923.64,435.71 1924.77,433.30 1922.81,431.51 1925.31,430.60 1925.19,427.94 1927.60,429.07 1929.39,427.11 1930.30,429.61 1932.96,429.49 1931.83,431.90" fill="#f01010"/><circle cx="1928.3" cy="432.6" r="4.2" fill="#f01010"/>
<line x1="1460.40" y1="68.30" x2="1514.00" y2="68.30" stroke="#10108c" stroke-width="3.0" />
<polygon points="1492.69,69.39 1490.19,70.30 1490.31,72.96 1487.90,71.83 1486.11,73.79 1485.20,71.29 1482.54,71.41 1483.67,69.00 1481.71,67.21 1484.21,66.30 1484.09,63.64 1486.50,64.77 1488.29,62.81 1489.20,65.31 1491.86,65.19 1490.73,67.60" fill="#0a14f0"/><circle cx="1487.2" cy="68.3" r="4.2" fill="#0a14f0"/>
<line x1="1460.40" y1="101.70" x2="1514.00" y2="101.70" stroke="#6e1a1a" stroke-width="3.0" />
<polygon points="1492.69,102.79 1490.19,103.70 1490.31,106.36 1487.90,105.23 1486.11,107.19 1485.20,104.69 1482.54,104.81 1483.67,102.40 1481.71,100.61 1484.21,99.70 1484.09,97.04 1486.50,98.17 1488.29,96.21 1489.20,98.71 1491.86,98.59 1490.73,101.00" fill="#f01010"/><circle cx="1487.2" cy="101.7" r="4.2" fill="#f01010"/>
<g shape-rendering="crispEdges"><rect x="1815.50" y="59.50" width="3.26" height="11.40" fill="#0c9af2"/><rect x="1818.46" y="59.50" width="3.26" height="11.40" fill="#0cc3f2"/><rect x="1821.42" y="59.50" width="3.26" height="11.40" fill="#0cdcf2"/><rect x="1824.38" y="59.50" width="3.26" height="11.40" fill="#0ce3f2"/><rect x="1827.35" y="59.50" width="3.26" height="11.40" fill="#2df4d1"/><rect x="1830.31" y="59.50" width="3.26" height="11.40" fill="#9cf462"/><rect x="1833.27" y="59.50" width="3.26" height="11.40" fill="#f2b30c"/><rect x="1836.23" y="59.50" width="3.26" height="11.40" fill="#f23e0c"/><rect x="1839.19" y="59.50" width="3.26" height="11.40" fill="#f22e0c"/><rect x="1842.15" y="59.50" width="3.26" height="11.40" fill="#f2900c"/><rect x="1845.12" y="59.50" width="3.26" height="11.40" fill="#bbf443"/><rect x="1848.08" y="59.50" width="3.26" height="11.40" fill="#30f4ce"/><rect x="1851.04" y="59.50" width="3.26" height="11.40" fill="#0cbdf2"/><rect x="1854.00" y="59.50" width="3.26" height="11.40" fill="#0c8bf2"/><rect x="1856.96" y="59.50" width="3.26" height="11.40" fill="#0c7af2"/><rect x="1859.92" y="59.50" width="3.26" height="11.40" fill="#0c76f2"/><rect x="1862.89" y="59.50" width="3.26" height="11.40" fill="#0c73f2"/><rect x="1865.85" y="59.50" width="3.26" height="11.40" fill="#0c73f2"/><rect x="1868.81" y="59.50" width="3.26" height="11.40" fill="#0c71f2"/><rect x="1871.77" y="59.50" width="3.26" height="11.40" fill="#0c75f2"/><rect x="1874.73" y="59.50" width="3.26" height="11.40" fill="#0c7af2"/><rect x="1877.69" y="59.50" width="3.26" height="11.40" fill="#0c77f2"/><rect x="1880.66" y="59.50" width="3.26" height="11.40" fill="#0c7af2"/><rect x="1883.62" y="59.50" width="3.26" height="11.40" fill="#0c79f2"/><rect x="1886.58" y="59.50" width="3.26" height="11.40" fill="#0c77f2"/><rect x="1889.54" y="59.50" width="3.26" height="11.40" fill="#0c6ff2"/><rect x="1892.50" y="59.50" width="3.26" height="11.40" fill="#0c77f2"/><rect x="1895.46" y="59.50" width="3.26" height="11.40" fill="#0c80f2"/><rect x="1898.43" y="59.50" width="3.26" height="11.40" fill="#0c94f2"/><rect x="1901.39" y="59.50" width="3.26" height="11.40" fill="#0ca4f2"/><rect x="1904.35" y="59.50" width="3.26" height="11.40" fill="#0ca9f2"/><rect x="1907.31" y="59.50" width="3.26" height="11.40" fill="#0c98f2"/><rect x="1910.27" y="59.50" width="3.26" height="11.40" fill="#0c87f2"/><rect x="1913.24" y="59.50" width="3.26" height="11.40" fill="#0c7bf2"/><rect x="1916.20" y="59.50" width="3.26" height="11.40" fill="#0c73f2"/><rect x="1919.16" y="59.50" width="3.26" height="11.40" fill="#0c82f2"/><rect x="1922.12" y="59.50" width="3.26" height="11.40" fill="#0c95f2"/><rect x="1925.08" y="59.50" width="3.26" height="11.40" fill="#0c9ef2"/><rect x="1928.04" y="59.50" width="3.26" height="11.40" fill="#0c9ff2"/><rect x="1931.01" y="59.50" width="3.26" height="11.40" fill="#0c8ff2"/><rect x="1933.97" y="59.50" width="3.26" height="11.40" fill="#0c6ef2"/><rect x="1936.93" y="59.50" width="3.26" height="11.40" fill="#0c63f2"/><rect x="1939.89" y="59.50" width="3.26" height="11.40" fill="#0c65f2"/><rect x="1942.85" y="59.50" width="3.26" height="11.40" fill="#0c62f2"/><rect x="1945.81" y="59.50" width="3.26" height="11.40" fill="#0c64f2"/><rect x="1948.78" y="59.50" width="3.26" height="11.40" fill="#0c64f2"/><rect x="1951.74" y="59.50" width="3.26" height="11.40" fill="#0c67f2"/><rect x="1954.70" y="59.50" width="3.26" height="11.40" fill="#0c69f2"/><rect x="1957.66" y="59.50" width="3.26" height="11.40" fill="#0c67f2"/><rect x="1960.62" y="59.50" width="3.26" height="11.40" fill="#0c6bf2"/><rect x="1963.58" y="59.50" width="3.26" height="11.40" fill="#0c70f2"/><rect x="1966.55" y="59.50" width="3.26" height="11.40" fill="#0c72f2"/><rect x="1969.51" y="59.50" width="3.26" height="11.40" fill="#0c70f2"/><rect x="1972.47" y="59.50" width="3.26" height="11.40" fill="#0c6ff2"/><rect x="1975.43" y="59.50" width="3.26" height="11.40" fill="#0c6cf2"/><rect x="1978.39" y="59.50" width="3.26" height="11.40" fill="#0c6bf2"/><rect x="1981.35" y="59.50" width="3.26" height="11.40" fill="#0c66f2"/><rect x="1984.32" y="59.50" width="3.26" height="11.40" fill="#0c6af2"/><rect x="1987.28" y="59.50" width="3.26" height="11.40" fill="#0c69f2"/><rect x="1990.24" y="59.50" width="3.26" height="11.40" fill="#0c6bf2"/><rect x="1815.50" y="70.60" width="3.26" height="22.50" fill="#0c95f2"/><rect x="1818.46" y="70.60" width="3.26" height="22.50" fill="#0cbaf2"/><rect x="1821.42" y="70.60" width="3.26" height="22.50" fill="#0ccbf2"/><rect x="1824.38" y="70.60" width="3.26" height="22.50" fill="#0cc8f2"/><rect x="1827.35" y="70.60" width="3.26" height="22.50" fill="#0cecf2"/><rect x="1830.31" y="70.60" width="3.26" height="22.50" fill="#73f48b"/><rect x="1833.27" y="70.60" width="3.26" height="22.50" fill="#f2c70c"/><rect x="1836.23" y="70.60" width="3.26" height="22.50" fill="#f2200c"/><rect x="1839.19" y="70.60" width="3.26" height="22.50" fill="#c60a0c"/><rect x="1842.15" y="70.60" width="3.26" height="22.50" fill="#f2260c"/><rect x="1845.12" y="70.60" width="3.26" height="22.50" fill="#f2cd0c"/><rect x="1848.08" y="70.60" width="3.26" height="22.50" fill="#69f495"/><rect x="1851.04" y="70.60" width="3.26" height="22.50" fill="#0cd6f2"/><rect x="1854.00" y="70.60" width="3.26" height="22.50" fill="#0c96f2"/><rect x="1856.96" y="70.60" width="3.26" height="22.50" fill="#0c76f2"/><rect x="1859.92" y="70.60" width="3.26" height="22.50" fill="#0c6ff2"/><rect x="1862.89" y="70.60" width="3.26" height="22.50" fill="#0c76f2"/><rect x="1865.85" y="70.60" width="3.26" height="22.50" fill="#0c75f2"/><rect x="1868.81" y="70.60" width="3.26" height="22.50" fill="#0c72f2"/><rect x="1871.77" y="70.60" width="3.26" height="22.50" fill="#0c76f2"/><rect x="1874.73" y="70.60" width="3.26" height="22.50" fill="#0c77f2"/><rect x="1877.69" y="70.60" width="3.26" height="22.50" fill="#0c73f2"/><rect x="1880.66" y="70.60" width="3.26" height="22.50" fill="#0c75f2"/><rect x="1883.62" y="70.60" width="3.26" height="22.50" fill="#0c72f2"/><rect x="1886.58" y="70.60" width="3.26" height="22.50" fill="#0c73f2"/><rect x="1889.54" y="70.60" width="3.26" height="22.50" fill="#0c75f2"/><rect x="1892.50" y="70.60" width="3.26" height="22.50" fill="#0c7df2"/><rect x="1895.46" y="70.60" width="3.26" height="22.50" fill="#0c88f2"/><rect x="1898.43" y="70.60" width="3.26" height="22.50" fill="#0c9df2"/><rect x="1901.39" y="70.60" width="3.26" height="22.50" fill="#0caff2"/><rect x="1904.35" y="70.60" width="3.26" height="22.50" fill="#0cb0f2"/><rect x="1907.31" y="70.60" width="3.26" height="22.50" fill="#0ca2f2"/><rect x="1910.27" y="70.60" width="3.26" height="22.50" fill="#0c8bf2"/><rect x="1913.24" y="70.60" width="3.26" height="22.50" fill="#0c80f2"/><rect x="1916.20" y="70.60" width="3.26" height="22.50" fill="#0c74f2"/><rect x="1919.16" y="70.60" width="3.26" height="22.50" fill="#0c7df2"/><rect x="1922.12" y="70.60" width="3.26" height="22.50" fill="#0c88f2"/><rect x="1925.08" y="70.60" width="3.26" height="22.50" fill="#0c94f2"/><rect x="1928.04" y="70.60" width="3.26" height="22.50" fill="#0c8ff2"/><rect x="1931.01" y="70.60" width="3.26" height="22.50" fill="#0c86f2"/><rect x="1933.97" y="70.60" width="3.26" height="22.50" fill="#0c69f2"/><rect x="1936.93" y="70.60" width="3.26" height="22.50" fill="#0c65f2"/><rect x="1939.89" y="70.60" width="3.26" height="22.50" fill="#0c66f2"/><rect x="1942.85" y="70.60" width="3.26" height="22.50" fill="#0c6af2"/><rect x="1945.81" y="70.60" width="3.26" height="22.50" fill="#0c65f2"/><rect x="1948.78" y="70.60" width="3.26" height="22.50" fill="#0c5ff2"/><rect x="1951.74" y="70.60" width="3.26" height="22.50" fill="#0c5cf2"/><rect x="1954.70" y="70.60" width="3.26" height="22.50" fill="#0c5ef2"/><rect x="1957.66" y="70.60" width="3.26" height="22.50" fill="#0c63f2"/><rect x="1960.62" y="70.60" width="3.26" height="22.50" fill="#0c66f2"/><rect x="1963.58" y="70.60" width="3.26" height="22.50" fill="#0c6cf2"/><rect x="1966.55" y="70.60" width="3.26" height="22.50" fill="#0c6ff2"/><rect x="1969.51" y="70.60" width="3.26" height="22.50" fill="#0c6cf2"/><rect x="1972.47" y="70.60" width="3.26" height="22.50" fill="#0c5ff2"/><rect x="1975.43" y="70.60" width="3.26" height="22.50" fill="#0c5ff2"/><rect x="1978.39" y="70.60" width="3.26" height="22.50" fill="#0c61f2"/><rect x="1981.35" y="70.60" width="3.26" height="22.50" fill="#0c5cf2"/><rect x="1984.32" y="70.60" width="3.26" height="22.50" fill="#0c64f2"/><rect x="1987.28" y="70.60" width="3.26" height="22.50" fill="#0c68f2"/><rect x="1990.24" y="70.60" width="3.26" height="22.50" fill="#0c6af2"/><rect x="1815.50" y="92.80" width="3.26" height="23.80" fill="#0c8ff2"/><rect x="1818.46" y="92.80" width="3.26" height="23.80" fill="#0c92f2"/><rect x="1821.42" y="92.80" width="3.26" height="23.80" fill="#0c8af2"/><rect x="1824.38" y="92.80" width="3.26" height="23.80" fill="#0c83f2"/><rect x="1827.35" y="92.80" width="3.26" height="23.80" fill="#0ca2f2"/><rect x="1830.31" y="92.80" width="3.26" height="23.80" fill="#0cedf2"/><rect x="1833.27" y="92.80" width="3.26" height="23.80" fill="#96f468"/><rect x="1836.23" y="92.80" width="3.26" height="23.80" fill="#f2830c"/><rect x="1839.19" y="92.80" width="3.26" height="23.80" fill="#b60a0c"/><rect x="1842.15" y="92.80" width="3.26" height="23.80" fill="#820a0c"/><rect x="1845.12" y="92.80" width="3.26" height="23.80" fill="#ee0a0c"/><rect x="1848.08" y="92.80" width="3.26" height="23.80" fill="#f2d40c"/><rect x="1851.04" y="92.80" width="3.26" height="23.80" fill="#56f4a8"/><rect x="1854.00" y="92.80" width="3.26" height="23.80" fill="#0cc1f2"/><rect x="1856.96" y="92.80" width="3.26" height="23.80" fill="#0c83f2"/><rect x="1859.92" y="92.80" width="3.26" height="23.80" fill="#0c70f2"/><rect x="1862.89" y="92.80" width="3.26" height="23.80" fill="#0c76f2"/><rect x="1865.85" y="92.80" width="3.26" height="23.80" fill="#0c75f2"/><rect x="1868.81" y="92.80" width="3.26" height="23.80" fill="#0c72f2"/><rect x="1871.77" y="92.80" width="3.26" height="23.80" fill="#0c78f2"/><rect x="1874.73" y="92.80" width="3.26" height="23.80" fill="#0c7cf2"/><rect x="1877.69" y="92.80" width="3.26" height="23.80" fill="#0c78f2"/><rect x="1880.66" y="92.80" width="3.26" height="23.80" fill="#0c79f2"/><rect x="1883.62" y="92.80" width="3.26" height="23.80" fill="#0c7af2"/><rect x="1886.58" y="92.80" width="3.26" height="23.80" fill="#0c7bf2"/><rect x="1889.54" y="92.80" width="3.26" height="23.80" fill="#0c81f2"/><rect x="1892.50" y="92.80" width="3.26" height="23.80" fill="#0c8bf2"/><rect x="1895.46" y="92.80" width="3.26" height="23.80" fill="#0c92f2"/><rect x="1898.43" y="92.80" width="3.26" height="23.80" fill="#0c9bf2"/><rect x="1901.39" y="92.80" width="3.26" height="23.80" fill="#0c92f2"/><rect x="1904.35" y="92.80" width="3.26" height="23.80" fill="#0c89f2"/><rect x="1907.31" y="92.80" width="3.26" height="23.80" fill="#0c7ff2"/><rect x="1910.27" y="92.80" width="3.26" height="23.80" fill="#0c7df2"/><rect x="1913.24" y="92.80" width="3.26" height="23.80" fill="#0c7ff2"/><rect x="1916.20" y="92.80" width="3.26" height="23.80" fill="#0c7df2"/><rect x="1919.16" y="92.80" width="3.26" height="23.80" fill="#0c7cf2"/><rect x="1922.12" y="92.80" width="3.26" height="23.80" fill="#0c78f2"/><rect x="1925.08" y="92.80" width="3.26" height="23.80" fill="#0c6ff2"/><rect x="1928.04" y="92.80" width="3.26" height="23.80" fill="#0c67f2"/><rect x="1931.01" y="92.80" width="3.26" height="23.80" fill="#0c6bf2"/><rect x="1933.97" y="92.80" width="3.26" height="23.80" fill="#0c60f2"/><rect x="1936.93" y="92.80" width="3.26" height="23.80" fill="#0c60f2"/><rect x="1939.89" y="92.80" width="3.26" height="23.80" fill="#0c66f2"/><rect x="1942.85" y="92.80" width="3.26" height="23.80" fill="#0c68f2"/><rect x="1945.81" y="92.80" width="3.26" height="23.80" fill="#0c62f2"/><rect x="1948.78" y="92.80" width="3.26" height="23.80" fill="#0c62f2"/><rect x="1951.74" y="92.80" width="3.26" height="23.80" fill="#0c6af2"/><rect x="1954.70" y="92.80" width="3.26" height="23.80" fill="#0c69f2"/><rect x="1957.66" y="92.80" width="3.26" height="23.80" fill="#0c6cf2"/><rect x="1960.62" y="92.80" width="3.26" height="23.80" fill="#0c71f2"/><rect x="1963.58" y="92.80" width="3.26" height="23.80" fill="#0c71f2"/><rect x="1966.55" y="92.80" width="3.26" height="23.80" fill="#0c6ff2"/><rect x="1969.51" y="92.80" width="3.26" height="23.80" fill="#0c74f2"/><rect x="1972.47" y="92.80" width="3.26" height="23.80" fill="#0c73f2"/><rect x="1975.43" y="92.80" width="3.26" height="23.80" fill="#0c77f2"/><rect x="1978.39" y="92.80" width="3.26" height="23.80" fill="#0c76f2"/><rect x="1981.35" y="92.80" width="3.26" height="23.80" fill="#0c6ef2"/><rect x="1984.32" y="92.80" width="3.26" height="23.80" fill="#0c6cf2"/><rect x="1987.28" y="92.80" width="3.26" height="23.80" fill="#0c6cf2"/><rect x="1990.24" y="92.80" width="3.26" height="23.80" fill="#0c67f2"/><rect x="1815.50" y="116.30" width="3.26" height="22.60" fill="#0c76f2"/><rect x="1818.46" y="116.30" width="3.26" height="22.60" fill="#0c81f2"/><rect x="1821.42" y="116.30" width="3.26" height="22.60" fill="#0c92f2"/><rect x="1824.38" y="116.30" width="3.26" height="22.60" fill="#0c91f2"/><rect x="1827.35" y="116.30" width="3.26" height="22.60" fill="#0c8df2"/><rect x="1830.31" y="116.30" width="3.26" height="22.60" fill="#0c80f2"/><rect x="1833.27" y="116.30" width="3.26" height="22.60" fill="#0c86f2"/><rect x="1836.23" y="116.30" width="3.26" height="22.60" fill="#0cbbf2"/><rect x="1839.19" y="116.30" width="3.26" height="22.60" fill="#4cf4b2"/><rect x="1842.15" y="116.30" width="3.26" height="22.60" fill="#f2e00c"/><rect x="1845.12" y="116.30" width="3.26" height="22.60" fill="#f2110c"/><rect x="1848.08" y="116.30" width="3.26" height="22.60" fill="#840a0c"/><rect x="1851.04" y="116.30" width="3.26" height="22.60" fill="#ad0a0c"/><rect x="1854.00" y="116.30" width="3.26" height="22.60" fill="#f2710c"/><rect x="1856.96" y="116.30" width="3.26" height="22.60" fill="#a7f457"/><rect x="1859.92" y="116.30" width="3.26" height="22.60" fill="#13f4eb"/><rect x="1862.89" y="116.30" width="3.26" height="22.60" fill="#0cacf2"/><rect x="1865.85" y="116.30" width="3.26" height="22.60" fill="#0c8af2"/><rect x="1868.81" y="116.30" width="3.26" height="22.60" fill="#0c7af2"/><rect x="1871.77" y="116.30" width="3.26" height="22.60" fill="#0c7af2"/><rect x="1874.73" y="116.30" width="3.26" height="22.60" fill="#0c73f2"/><rect x="1877.69" y="116.30" width="3.26" height="22.60" fill="#0c78f2"/><rect x="1880.66" y="116.30" width="3.26" height="22.60" fill="#0c79f2"/><rect x="1883.62" y="116.30" width="3.26" height="22.60" fill="#0c7af2"/><rect x="1886.58" y="116.30" width="3.26" height="22.60" fill="#0c84f2"/><rect x="1889.54" y="116.30" width="3.26" height="22.60" fill="#0c95f2"/><rect x="1892.50" y="116.30" width="3.26" height="22.60" fill="#0c9af2"/><rect x="1895.46" y="116.30" width="3.26" height="22.60" fill="#0c97f2"/><rect x="1898.43" y="116.30" width="3.26" height="22.60" fill="#0c8cf2"/><rect x="1901.39" y="116.30" width="3.26" height="22.60" fill="#0c80f2"/><rect x="1904.35" y="116.30" width="3.26" height="22.60" fill="#0c74f2"/><rect x="1907.31" y="116.30" width="3.26" height="22.60" fill="#0c6ff2"/><rect x="1910.27" y="116.30" width="3.26" height="22.60" fill="#0c71f2"/><rect x="1913.24" y="116.30" width="3.26" height="22.60" fill="#0c7bf2"/><rect x="1916.20" y="116.30" width="3.26" height="22.60" fill="#0c75f2"/><rect x="1919.16" y="116.30" width="3.26" height="22.60" fill="#0c79f2"/><rect x="1922.12" y="116.30" width="3.26" height="22.60" fill="#0c77f2"/><rect x="1925.08" y="116.30" width="3.26" height="22.60" fill="#0c6ef2"/><rect x="1928.04" y="116.30" width="3.26" height="22.60" fill="#0c65f2"/><rect x="1931.01" y="116.30" width="3.26" height="22.60" fill="#0c67f2"/><rect x="1933.97" y="116.30" width="3.26" height="22.60" fill="#0c5bf2"/><rect x="1936.93" y="116.30" width="3.26" height="22.60" fill="#0c5af2"/><rect x="1939.89" y="116.30" width="3.26" height="22.60" fill="#0c61f2"/><rect x="1942.85" y="116.30" width="3.26" height="22.60" fill="#0c68f2"/><rect x="1945.81" y="116.30" width="3.26" height="22.60" fill="#0c6af2"/><rect x="1948.78" y="116.30" width="3.26" height="22.60" fill="#0c62f2"/><rect x="1951.74" y="116.30" width="3.26" height="22.60" fill="#0c66f2"/><rect x="1954.70" y="116.30" width="3.26" height="22.60" fill="#0c66f2"/><rect x="1957.66" y="116.30" width="3.26" height="22.60" fill="#0c65f2"/><rect x="1960.62" y="116.30" width="3.26" height="22.60" fill="#0c68f2"/><rect x="1963.58" y="116.30" width="3.26" height="22.60" fill="#0c73f2"/><rect x="1966.55" y="116.30" width="3.26" height="22.60" fill="#0c72f2"/><rect x="1969.51" y="116.30" width="3.26" height="22.60" fill="#0c78f2"/><rect x="1972.47" y="116.30" width="3.26" height="22.60" fill="#0c71f2"/><rect x="1975.43" y="116.30" width="3.26" height="22.60" fill="#0c68f2"/><rect x="1978.39" y="116.30" width="3.26" height="22.60" fill="#0c63f2"/><rect x="1981.35" y="116.30" width="3.26" height="22.60" fill="#0c5cf2"/><rect x="1984.32" y="116.30" width="3.26" height="22.60" fill="#0c59f2"/><rect x="1987.28" y="116.30" width="3.26" height="22.60" fill="#0c57f2"/><rect x="1990.24" y="116.30" width="3.26" height="22.60" fill="#0c62f2"/><rect x="1815.50" y="138.60" width="3.26" height="23.10" fill="#0c8af2"/><rect x="1818.46" y="138.60" width="3.26" height="23.10" fill="#0c93f2"/><rect x="1821.42" y="138.60" width="3.26" height="23.10" fill="#0c92f2"/><rect x="1824.38" y="138.60" width="3.26" height="23.10" fill="#0c8cf2"/><rect x="1827.35" y="138.60" width="3.26" height="23.10" fill="#0c82f2"/><rect x="1830.31" y="138.60" width="3.26" height="23.10" fill="#0c6cf2"/><rect x="1833.27" y="138.60" width="3.26" height="23.10" fill="#0c6ef2"/><rect x="1836.23" y="138.60" width="3.26" height="23.10" fill="#0c72f2"/><rect x="1839.19" y="138.60" width="3.26" height="23.10" fill="#0c82f2"/><rect x="1842.15" y="138.60" width="3.26" height="23.10" fill="#0cabf2"/><rect x="1845.12" y="138.60" width="3.26" height="23.10" fill="#1ef4e0"/><rect x="1848.08" y="138.60" width="3.26" height="23.10" fill="#b9f445"/><rect x="1851.04" y="138.60" width="3.26" height="23.10" fill="#f2600c"/><rect x="1854.00" y="138.60" width="3.26" height="23.10" fill="#a70a0c"/><rect x="1856.96" y="138.60" width="3.26" height="23.10" fill="#860a0c"/><rect x="1859.92" y="138.60" width="3.26" height="23.10" fill="#f20f0c"/><rect x="1862.89" y="138.60" width="3.26" height="23.10" fill="#f2ce0c"/><rect x="1865.85" y="138.60" width="3.26" height="23.10" fill="#68f496"/><rect x="1868.81" y="138.60" width="3.26" height="23.10" fill="#0ce5f2"/><rect x="1871.77" y="138.60" width="3.26" height="23.10" fill="#0cc2f2"/><rect x="1874.73" y="138.60" width="3.26" height="23.10" fill="#0cbaf2"/><rect x="1877.69" y="138.60" width="3.26" height="23.10" fill="#0cb5f2"/><rect x="1880.66" y="138.60" width="3.26" height="23.10" fill="#0cb3f2"/><rect x="1883.62" y="138.60" width="3.26" height="23.10" fill="#0caaf2"/><rect x="1886.58" y="138.60" width="3.26" height="23.10" fill="#0c92f2"/><rect x="1889.54" y="138.60" width="3.26" height="23.10" fill="#0c82f2"/><rect x="1892.50" y="138.60" width="3.26" height="23.10" fill="#0c7bf2"/><rect x="1895.46" y="138.60" width="3.26" height="23.10" fill="#0c6ff2"/><rect x="1898.43" y="138.60" width="3.26" height="23.10" fill="#0c67f2"/><rect x="1901.39" y="138.60" width="3.26" height="23.10" fill="#0c69f2"/><rect x="1904.35" y="138.60" width="3.26" height="23.10" fill="#0c6bf2"/><rect x="1907.31" y="138.60" width="3.26" height="23.10" fill="#0c6af2"/><rect x="1910.27" y="138.60" width="3.26" height="23.10" fill="#0c74f2"/><rect x="1913.24" y="138.60" width="3.26" height="23.10" fill="#0c7cf2"/><rect x="1916.20" y="138.60" width="3.26" height="23.10" fill="#0c78f2"/><rect x="1919.16" y="138.60" width="3.26" height="23.10" fill="#0c7cf2"/><rect x="1922.12" y="138.60" width="3.26" height="23.10" fill="#0c7cf2"/><rect x="1925.08" y="138.60" width="3.26" height="23.10" fill="#0c77f2"/><rect x="1928.04" y="138.60" width="3.26" height="23.10" fill="#0c72f2"/><rect x="1931.01" y="138.60" width="3.26" height="23.10" fill="#0c73f2"/><rect x="1933.97" y="138.60" width="3.26" height="23.10" fill="#0c67f2"/><rect x="1936.93" y="138.60" width="3.26" height="23.10" fill="#0c5ef2"/><rect x="1939.89" y="138.60" width="3.26" height="23.10" fill="#0c61f2"/><rect x="1942.85" y="138.60" width="3.26" height="23.10" fill="#0c63f2"/><rect x="1945.81" y="138.60" width="3.26" height="23.10" fill="#0c61f2"/><rect x="1948.78" y="138.60" width="3.26" height="23.10" fill="#0c5af2"/><rect x="1951.74" y="138.60" width="3.26" height="23.10" fill="#0c66f2"/><rect x="1954.70" y="138.60" width="3.26" height="23.10" fill="#0c65f2"/><rect x="1957.66" y="138.60" width="3.26" height="23.10" fill="#0c68f2"/><rect x="1960.62" y="138.60" width="3.26" height="23.10" fill="#0c70f2"/><rect x="1963.58" y="138.60" width="3.26" height="23.10" fill="#0c75f2"/><rect x="1966.55" y="138.60" width="3.26" height="23.10" fill="#0c72f2"/><rect x="1969.51" y="138.60" width="3.26" height="23.10" fill="#0c76f2"/><rect x="1972.47" y="138.60" width="3.26" height="23.10" fill="#0c71f2"/><rect x="1975.43" y="138.60" width="3.26" height="23.10" fill="#0c6ff2"/><rect x="1978.39" y="138.60" width="3.26" height="23.10" fill="#0c71f2"/><rect x="1981.35" y="138.60" width="3.26" height="23.10" fill="#0c6ef2"/><rect x="1984.32" y="138.60" width="3.26" height="23.10" fill="#0c6cf2"/><rect x="1987.28" y="138.60" width="3.26" height="23.10" fill="#0c6df2"/><rect x="1990.24" y="138.60" width="3.26" height="23.10" fill="#0c6bf2"/><rect x="1815.50" y="161.40" width="3.26" height="22.10" fill="#0cc9f2"/><rect x="1818.46" y="161.40" width="3.26" height="22.10" fill="#0cbff2"/><rect x="1821.42" y="161.40" width="3.26" height="22.10" fill="#0ca7f2"/><rect x="1824.38" y="161.40" width="3.26" height="22.10" fill="#0c92f2"/><rect x="1827.35" y="161.40" width="3.26" height="22.10" fill="#0c99f2"/><rect x="1830.31" y="161.40" width="3.26" height="22.10" fill="#0c94f2"/><rect x="1833.27" y="161.40" width="3.26" height="22.10" fill="#0c9cf2"/><rect x="1836.23" y="161.40" width="3.26" height="22.10" fill="#0c96f2"/><rect x="1839.19" y="161.40" width="3.26" height="22.10" fill="#0c8df2"/><rect x="1842.15" y="161.40" width="3.26" height="22.10" fill="#0c7bf2"/><rect x="1845.12" y="161.40" width="3.26" height="22.10" fill="#0c79f2"/><rect x="1848.08" y="161.40" width="3.26" height="22.10" fill="#0c80f2"/><rect x="1851.04" y="161.40" width="3.26" height="22.10" fill="#0ca5f2"/><rect x="1854.00" y="161.40" width="3.26" height="22.10" fill="#0df4f1"/><rect x="1856.96" y="161.40" width="3.26" height="22.10" fill="#92f46c"/><rect x="1859.92" y="161.40" width="3.26" height="22.10" fill="#f2a50c"/><rect x="1862.89" y="161.40" width="3.26" height="22.10" fill="#e40a0c"/><rect x="1865.85" y="161.40" width="3.26" height="22.10" fill="#860a0c"/><rect x="1868.81" y="161.40" width="3.26" height="22.10" fill="#9b0a0c"/><rect x="1871.77" y="161.40" width="3.26" height="22.10" fill="#f2340c"/><rect x="1874.73" y="161.40" width="3.26" height="22.10" fill="#f2e90c"/><rect x="1877.69" y="161.40" width="3.26" height="22.10" fill="#5df4a1"/><rect x="1880.66" y="161.40" width="3.26" height="22.10" fill="#0ce2f2"/><rect x="1883.62" y="161.40" width="3.26" height="22.10" fill="#0cb0f2"/><rect x="1886.58" y="161.40" width="3.26" height="22.10" fill="#0ca0f2"/><rect x="1889.54" y="161.40" width="3.26" height="22.10" fill="#0c9af2"/><rect x="1892.50" y="161.40" width="3.26" height="22.10" fill="#0c97f2"/><rect x="1895.46" y="161.40" width="3.26" height="22.10" fill="#0c83f2"/><rect x="1898.43" y="161.40" width="3.26" height="22.10" fill="#0c76f2"/><rect x="1901.39" y="161.40" width="3.26" height="22.10" fill="#0c6df2"/><rect x="1904.35" y="161.40" width="3.26" height="22.10" fill="#0c6cf2"/><rect x="1907.31" y="161.40" width="3.26" height="22.10" fill="#0c65f2"/><rect x="1910.27" y="161.40" width="3.26" height="22.10" fill="#0c6ef2"/><rect x="1913.24" y="161.40" width="3.26" height="22.10" fill="#0c78f2"/><rect x="1916.20" y="161.40" width="3.26" height="22.10" fill="#0c77f2"/><rect x="1919.16" y="161.40" width="3.26" height="22.10" fill="#0c7af2"/><rect x="1922.12" y="161.40" width="3.26" height="22.10" fill="#0c7cf2"/><rect x="1925.08" y="161.40" width="3.26" height="22.10" fill="#0c77f2"/><rect x="1928.04" y="161.40" width="3.26" height="22.10" fill="#0c70f2"/><rect x="1931.01" y="161.40" width="3.26" height="22.10" fill="#0c73f2"/><rect x="1933.97" y="161.40" width="3.26" height="22.10" fill="#0c69f2"/><rect x="1936.93" y="161.40" width="3.26" height="22.10" fill="#0c68f2"/><rect x="1939.89" y="161.40" width="3.26" height="22.10" fill="#0c66f2"/><rect x="1942.85" y="161.40" width="3.26" height="22.10" fill="#0c68f2"/><rect x="1945.81" y="161.40" width="3.26" height="22.10" fill="#0c65f2"/><rect x="1948.78" y="161.40" width="3.26" height="22.10" fill="#0c61f2"/><rect x="1951.74" y="161.40" width="3.26" height="22.10" fill="#0c67f2"/><rect x="1954.70" y="161.40" width="3.26" height="22.10" fill="#0c69f2"/><rect x="1957.66" y="161.40" width="3.26" height="22.10" fill="#0c69f2"/><rect x="1960.62" y="161.40" width="3.26" height="22.10" fill="#0c66f2"/><rect x="1963.58" y="161.40" width="3.26" height="22.10" fill="#0c6bf2"/><rect x="1966.55" y="161.40" width="3.26" height="22.10" fill="#0c69f2"/><rect x="1969.51" y="161.40" width="3.26" height="22.10" fill="#0c6bf2"/><rect x="1972.47" y="161.40" width="3.26" height="22.10" fill="#0c65f2"/><rect x="1975.43" y="161.40" width="3.26" height="22.10" fill="#0c65f2"/><rect x="1978.39" y="161.40" width="3.26" height="22.10" fill="#0c6bf2"/><rect x="1981.35" y="161.40" width="3.26" height="22.10" fill="#0c65f2"/><rect x="1984.32" y="161.40" width="3.26" height="22.10" fill="#0c69f2"/><rect x="1987.28" y="161.40" width="3.26" height="22.10" fill="#0c6cf2"/><rect x="1990.24" y="161.40" width="3.26" height="22.10" fill="#0c6ef2"/><rect x="1815.50" y="183.20" width="3.26" height="22.10" fill="#0cb5f2"/><rect x="1818.46" y="183.20" width="3.26" height="22.10" fill="#0cbcf2"/><rect x="1821.42" y="183.20" width="3.26" height="22.10" fill="#0c8df2"/><rect x="1824.38" y="183.20" width="3.26" height="22.10" fill="#0c70f2"/><rect x="1827.35" y="183.20" width="3.26" height="22.10" fill="#0c74f2"/><rect x="1830.31" y="183.20" width="3.26" height="22.10" fill="#0c7bf2"/><rect x="1833.27" y="183.20" width="3.26" height="22.10" fill="#0c91f2"/><rect x="1836.23" y="183.20" width="3.26" height="22.10" fill="#0cb2f2"/><rect x="1839.19" y="183.20" width="3.26" height="22.10" fill="#0ccef2"/><rect x="1842.15" y="183.20" width="3.26" height="22.10" fill="#0cccf2"/><rect x="1845.12" y="183.20" width="3.26" height="22.10" fill="#0caff2"/><rect x="1848.08" y="183.20" width="3.26" height="22.10" fill="#0c8ff2"/><rect x="1851.04" y="183.20" width="3.26" height="22.10" fill="#0c7ef2"/><rect x="1854.00" y="183.20" width="3.26" height="22.10" fill="#0c7bf2"/><rect x="1856.96" y="183.20" width="3.26" height="22.10" fill="#0c7af2"/><rect x="1859.92" y="183.20" width="3.26" height="22.10" fill="#0c81f2"/><rect x="1862.89" y="183.20" width="3.26" height="22.10" fill="#0c97f2"/><rect x="1865.85" y="183.20" width="3.26" height="22.10" fill="#0cb5f2"/><rect x="1868.81" y="183.20" width="3.26" height="22.10" fill="#15f4e9"/><rect x="1871.77" y="183.20" width="3.26" height="22.10" fill="#90f46e"/><rect x="1874.73" y="183.20" width="3.26" height="22.10" fill="#f2b50c"/><rect x="1877.69" y="183.20" width="3.26" height="22.10" fill="#f2150c"/><rect x="1880.66" y="183.20" width="3.26" height="22.10" fill="#920a0c"/><rect x="1883.62" y="183.20" width="3.26" height="22.10" fill="#880a0c"/><rect x="1886.58" y="183.20" width="3.26" height="22.10" fill="#e30a0c"/><rect x="1889.54" y="183.20" width="3.26" height="22.10" fill="#f2990c"/><rect x="1892.50" y="183.20" width="3.26" height="22.10" fill="#a8f456"/><rect x="1895.46" y="183.20" width="3.26" height="22.10" fill="#24f4da"/><rect x="1898.43" y="183.20" width="3.26" height="22.10" fill="#0cb7f2"/><rect x="1901.39" y="183.20" width="3.26" height="22.10" fill="#0c8bf2"/><rect x="1904.35" y="183.20" width="3.26" height="22.10" fill="#0c77f2"/><rect x="1907.31" y="183.20" width="3.26" height="22.10" fill="#0c71f2"/><rect x="1910.27" y="183.20" width="3.26" height="22.10" fill="#0c6af2"/><rect x="1913.24" y="183.20" width="3.26" height="22.10" fill="#0c74f2"/><rect x="1916.20" y="183.20" width="3.26" height="22.10" fill="#0c6bf2"/><rect x="1919.16" y="183.20" width="3.26" height="22.10" fill="#0c70f2"/><rect x="1922.12" y="183.20" width="3.26" height="22.10" fill="#0c70f2"/><rect x="1925.08" y="183.20" width="3.26" height="22.10" fill="#0c72f2"/><rect x="1928.04" y="183.20" width="3.26" height="22.10" fill="#0c6cf2"/><rect x="1931.01" y="183.20" width="3.26" height="22.10" fill="#0c73f2"/><rect x="1933.97" y="183.20" width="3.26" height="22.10" fill="#0c66f2"/><rect x="1936.93" y="183.20" width="3.26" height="22.10" fill="#0c62f2"/><rect x="1939.89" y="183.20" width="3.26" height="22.10" fill="#0c65f2"/><rect x="1942.85" y="183.20" width="3.26" height="22.10" fill="#0c65f2"/><rect x="1945.81" y="183.20" width="3.26" height="22.10" fill="#0c64f2"/><rect x="1948.78" y="183.20" width="3.26" height="22.10" fill="#0c61f2"/><rect x="1951.74" y="183.20" width="3.26" height="22.10" fill="#0c6af2"/><rect x="1954.70" y="183.20" width="3.26" height="22.10" fill="#0c65f2"/><rect x="1957.66" y="183.20" width="3.26" height="22.10" fill="#0c67f2"/><rect x="1960.62" y="183.20" width="3.26" height="22.10" fill="#0c6df2"/><rect x="1963.58" y="183.20" width="3.26" height="22.10" fill="#0c72f2"/><rect x="1966.55" y="183.20" width="3.26" height="22.10" fill="#0c6cf2"/><rect x="1969.51" y="183.20" width="3.26" height="22.10" fill="#0c71f2"/><rect x="1972.47" y="183.20" width="3.26" height="22.10" fill="#0c6df2"/><rect x="1975.43" y="183.20" width="3.26" height="22.10" fill="#0c6af2"/><rect x="1978.39" y="183.20" width="3.26" height="22.10" fill="#0c67f2"/><rect x="1981.35" y="183.20" width="3.26" height="22.10" fill="#0c63f2"/><rect x="1984.32" y="183.20" width="3.26" height="22.10" fill="#0c61f2"/><rect x="1987.28" y="183.20" width="3.26" height="22.10" fill="#0c60f2"/><rect x="1990.24" y="183.20" width="3.26" height="22.10" fill="#0c64f2"/><rect x="1815.50" y="205.00" width="3.26" height="23.40" fill="#0ce5f2"/><rect x="1818.46" y="205.00" width="3.26" height="23.40" fill="#0cc0f2"/><rect x="1821.42" y="205.00" width="3.26" height="23.40" fill="#0c95f2"/><rect x="1824.38" y="205.00" width="3.26" height="23.40" fill="#0c78f2"/><rect x="1827.35" y="205.00" width="3.26" height="23.40" fill="#0c80f2"/><rect x="1830.31" y="205.00" width="3.26" height="23.40" fill="#0c8df2"/><rect x="1833.27" y="205.00" width="3.26" height="23.40" fill="#0ca4f2"/><rect x="1836.23" y="205.00" width="3.26" height="23.40" fill="#0cc2f2"/><rect x="1839.19" y="205.00" width="3.26" height="23.40" fill="#0cdaf2"/><rect x="1842.15" y="205.00" width="3.26" height="23.40" fill="#0cd9f2"/><rect x="1845.12" y="205.00" width="3.26" height="23.40" fill="#0cc6f2"/><rect x="1848.08" y="205.00" width="3.26" height="23.40" fill="#0ca3f2"/><rect x="1851.04" y="205.00" width="3.26" height="23.40" fill="#0c89f2"/><rect x="1854.00" y="205.00" width="3.26" height="23.40" fill="#0c7df2"/><rect x="1856.96" y="205.00" width="3.26" height="23.40" fill="#0c79f2"/><rect x="1859.92" y="205.00" width="3.26" height="23.40" fill="#0c75f2"/><rect x="1862.89" y="205.00" width="3.26" height="23.40" fill="#0c7cf2"/><rect x="1865.85" y="205.00" width="3.26" height="23.40" fill="#0c7df2"/><rect x="1868.81" y="205.00" width="3.26" height="23.40" fill="#0c84f2"/><rect x="1871.77" y="205.00" width="3.26" height="23.40" fill="#0c8cf2"/><rect x="1874.73" y="205.00" width="3.26" height="23.40" fill="#0ca8f2"/><rect x="1877.69" y="205.00" width="3.26" height="23.40" fill="#0cd8f2"/><rect x="1880.66" y="205.00" width="3.26" height="23.40" fill="#45f4b9"/><rect x="1883.62" y="205.00" width="3.26" height="23.40" fill="#bbf443"/><rect x="1886.58" y="205.00" width="3.26" height="23.40" fill="#f2990c"/><rect x="1889.54" y="205.00" width="3.26" height="23.40" fill="#f20a0c"/><rect x="1892.50" y="205.00" width="3.26" height="23.40" fill="#930a0c"/><rect x="1895.46" y="205.00" width="3.26" height="23.40" fill="#840a0c"/><rect x="1898.43" y="205.00" width="3.26" height="23.40" fill="#ca0a0c"/><rect x="1901.39" y="205.00" width="3.26" height="23.40" fill="#f2680c"/><rect x="1904.35" y="205.00" width="3.26" height="23.40" fill="#e6f418"/><rect x="1907.31" y="205.00" width="3.26" height="23.40" fill="#5ef4a0"/><rect x="1910.27" y="205.00" width="3.26" height="23.40" fill="#0ce5f2"/><rect x="1913.24" y="205.00" width="3.26" height="23.40" fill="#0cb0f2"/><rect x="1916.20" y="205.00" width="3.26" height="23.40" fill="#0c8ff2"/><rect x="1919.16" y="205.00" width="3.26" height="23.40" fill="#0c82f2"/><rect x="1922.12" y="205.00" width="3.26" height="23.40" fill="#0c7ef2"/><rect x="1925.08" y="205.00" width="3.26" height="23.40" fill="#0c7af2"/><rect x="1928.04" y="205.00" width="3.26" height="23.40" fill="#0c74f2"/><rect x="1931.01" y="205.00" width="3.26" height="23.40" fill="#0c76f2"/><rect x="1933.97" y="205.00" width="3.26" height="23.40" fill="#0c6ef2"/><rect x="1936.93" y="205.00" width="3.26" height="23.40" fill="#0c6af2"/><rect x="1939.89" y="205.00" width="3.26" height="23.40" fill="#0c69f2"/><rect x="1942.85" y="205.00" width="3.26" height="23.40" fill="#0c6af2"/><rect x="1945.81" y="205.00" width="3.26" height="23.40" fill="#0c63f2"/><rect x="1948.78" y="205.00" width="3.26" height="23.40" fill="#0c5ff2"/><rect x="1951.74" y="205.00" width="3.26" height="23.40" fill="#0c66f2"/><rect x="1954.70" y="205.00" width="3.26" height="23.40" fill="#0c6df2"/><rect x="1957.66" y="205.00" width="3.26" height="23.40" fill="#0c73f2"/><rect x="1960.62" y="205.00" width="3.26" height="23.40" fill="#0c7bf2"/><rect x="1963.58" y="205.00" width="3.26" height="23.40" fill="#0c79f2"/><rect x="1966.55" y="205.00" width="3.26" height="23.40" fill="#0c77f2"/><rect x="1969.51" y="205.00" width="3.26" height="23.40" fill="#0c74f2"/><rect x="1972.47" y="205.00" width="3.26" height="23.40" fill="#0c70f2"/><rect x="1975.43" y="205.00" width="3.26" height="23.40" fill="#0c6cf2"/><rect x="1978.39" y="205.00" width="3.26" height="23.40" fill="#0c6df2"/><rect x="1981.35" y="205.00" width="3.26" height="23.40" fill="#0c69f2"/><rect x="1984.32" y="205.00" width="3.26" height="23.40" fill="#0c69f2"/><rect x="1987.28" y="205.00" width="3.26" height="23.40" fill="#0c66f2"/><rect x="1990.24" y="205.00" width="3.26" height="23.40" fill="#0c6af2"/><rect x="1815.50" y="228.10" width="3.26" height="23.80" fill="#91f46d"/><rect x="1818.46" y="228.10" width="3.26" height="23.80" fill="#42f4bc"/><rect x="1821.42" y="228.10" width="3.26" height="23.80" fill="#0ce9f2"/><rect x="1824.38" y="228.10" width="3.26" height="23.80" fill="#0cc3f2"/><rect x="1827.35" y="228.10" width="3.26" height="23.80" fill="#0ca9f2"/><rect x="1830.31" y="228.10" width="3.26" height="23.80" fill="#0c8ff2"/><rect x="1833.27" y="228.10" width="3.26" height="23.80" fill="#0c88f2"/><rect x="1836.23" y="228.10" width="3.26" height="23.80" fill="#0c94f2"/><rect x="1839.19" y="228.10" width="3.26" height="23.80" fill="#0cabf2"/><rect x="1842.15" y="228.10" width="3.26" height="23.80" fill="#0cbef2"/><rect x="1845.12" y="228.10" width="3.26" height="23.80" fill="#0cbdf2"/><rect x="1848.08" y="228.10" width="3.26" height="23.80" fill="#0ca6f2"/><rect x="1851.04" y="228.10" width="3.26" height="23.80" fill="#0c91f2"/><rect x="1854.00" y="228.10" width="3.26" height="23.80" fill="#0c84f2"/><rect x="1856.96" y="228.10" width="3.26" height="23.80" fill="#0c7bf2"/><rect x="1859.92" y="228.10" width="3.26" height="23.80" fill="#0c7af2"/><rect x="1862.89" y="228.10" width="3.26" height="23.80" fill="#0c79f2"/><rect x="1865.85" y="228.10" width="3.26" height="23.80" fill="#0c7bf2"/><rect x="1868.81" y="228.10" width="3.26" height="23.80" fill="#0c7af2"/><rect x="1871.77" y="228.10" width="3.26" height="23.80" fill="#0c7df2"/><rect x="1874.73" y="228.10" width="3.26" height="23.80" fill="#0c7bf2"/><rect x="1877.69" y="228.10" width="3.26" height="23.80" fill="#0c86f2"/><rect x="1880.66" y="228.10" width="3.26" height="23.80" fill="#0c94f2"/><rect x="1883.62" y="228.10" width="3.26" height="23.80" fill="#0cb5f2"/><rect x="1886.58" y="228.10" width="3.26" height="23.80" fill="#0ff4ef"/><rect x="1889.54" y="228.10" width="3.26" height="23.80" fill="#7af484"/><rect x="1892.50" y="228.10" width="3.26" height="23.80" fill="#f2e60c"/><rect x="1895.46" y="228.10" width="3.26" height="23.80" fill="#f24e0c"/><rect x="1898.43" y="228.10" width="3.26" height="23.80" fill="#bc0a0c"/><rect x="1901.39" y="228.10" width="3.26" height="23.80" fill="#810a0c"/><rect x="1904.35" y="228.10" width="3.26" height="23.80" fill="#990a0c"/><rect x="1907.31" y="228.10" width="3.26" height="23.80" fill="#f2120c"/><rect x="1910.27" y="228.10" width="3.26" height="23.80" fill="#f2a00c"/><rect x="1913.24" y="228.10" width="3.26" height="23.80" fill="#b8f446"/><rect x="1916.20" y="228.10" width="3.26" height="23.80" fill="#3bf4c3"/><rect x="1919.16" y="228.10" width="3.26" height="23.80" fill="#0cd0f2"/><rect x="1922.12" y="228.10" width="3.26" height="23.80" fill="#0c9cf2"/><rect x="1925.08" y="228.10" width="3.26" height="23.80" fill="#0c7cf2"/><rect x="1928.04" y="228.10" width="3.26" height="23.80" fill="#0c6bf2"/><rect x="1931.01" y="228.10" width="3.26" height="23.80" fill="#0c6df2"/><rect x="1933.97" y="228.10" width="3.26" height="23.80" fill="#0c64f2"/><rect x="1936.93" y="228.10" width="3.26" height="23.80" fill="#0c5ff2"/><rect x="1939.89" y="228.10" width="3.26" height="23.80" fill="#0c62f2"/><rect x="1942.85" y="228.10" width="3.26" height="23.80" fill="#0c61f2"/><rect x="1945.81" y="228.10" width="3.26" height="23.80" fill="#0c5ff2"/><rect x="1948.78" y="228.10" width="3.26" height="23.80" fill="#0c5af2"/><rect x="1951.74" y="228.10" width="3.26" height="23.80" fill="#0c5ff2"/><rect x="1954.70" y="228.10" width="3.26" height="23.80" fill="#0c66f2"/><rect x="1957.66" y="228.10" width="3.26" height="23.80" fill="#0c6ff2"/><rect x="1960.62" y="228.10" width="3.26" height="23.80" fill="#0c73f2"/><rect x="1963.58" y="228.10" width="3.26" height="23.80" fill="#0c75f2"/><rect x="1966.55" y="228.10" width="3.26" height="23.80" fill="#0c70f2"/><rect x="1969.51" y="228.10" width="3.26" height="23.80" fill="#0c6ff2"/><rect x="1972.47" y="228.10" width="3.26" height="23.80" fill="#0c69f2"/><rect x="1975.43" y="228.10" width="3.26" height="23.80" fill="#0c67f2"/><rect x="1978.39" y="228.10" width="3.26" height="23.80" fill="#0c6af2"/><rect x="1981.35" y="228.10" width="3.26" height="23.80" fill="#0c69f2"/><rect x="1984.32" y="228.10" width="3.26" height="23.80" fill="#0c69f2"/><rect x="1987.28" y="228.10" width="3.26" height="23.80" fill="#0c68f2"/><rect x="1990.24" y="228.10" width="3.26" height="23.80" fill="#0c67f2"/><rect x="1815.50" y="251.60" width="3.26" height="22.50" fill="#f2b00c"/><rect x="1818.46" y="251.60" width="3.26" height="22.50" fill="#93f46b"/><rect x="1821.42" y="251.60" width="3.26" height="22.50" fill="#32f4cc"/><rect x="1824.38" y="251.60" width="3.26" height="22.50" fill="#0ce3f2"/><rect x="1827.35" y="251.60" width="3.26" height="22.50" fill="#0c9bf2"/><rect x="1830.31" y="251.60" width="3.26" height="22.50" fill="#0c74f2"/><rect x="1833.27" y="251.60" width="3.26" height="22.50" fill="#0c66f2"/><rect x="1836.23" y="251.60" width="3.26" height="22.50" fill="#0c66f2"/><rect x="1839.19" y="251.60" width="3.26" height="22.50" fill="#0c65f2"/><rect x="1842.15" y="251.60" width="3.26" height="22.50" fill="#0c70f2"/><rect x="1845.12" y="251.60" width="3.26" height="22.50" fill="#0c7bf2"/><rect x="1848.08" y="251.60" width="3.26" height="22.50" fill="#0ca1f2"/><rect x="1851.04" y="251.60" width="3.26" height="22.50" fill="#0ccaf2"/><rect x="1854.00" y="251.60" width="3.26" height="22.50" fill="#0ccff2"/><rect x="1856.96" y="251.60" width="3.26" height="22.50" fill="#0cadf2"/><rect x="1859.92" y="251.60" width="3.26" height="22.50" fill="#0c8df2"/><rect x="1862.89" y="251.60" width="3.26" height="22.50" fill="#0c80f2"/><rect x="1865.85" y="251.60" width="3.26" height="22.50" fill="#0c79f2"/><rect x="1868.81" y="251.60" width="3.26" height="22.50" fill="#0c76f2"/><rect x="1871.77" y="251.60" width="3.26" height="22.50" fill="#0c7cf2"/><rect x="1874.73" y="251.60" width="3.26" height="22.50" fill="#0c7df2"/><rect x="1877.69" y="251.60" width="3.26" height="22.50" fill="#0c7ff2"/><rect x="1880.66" y="251.60" width="3.26" height="22.50" fill="#0c87f2"/><rect x="1883.62" y="251.60" width="3.26" height="22.50" fill="#0c8af2"/><rect x="1886.58" y="251.60" width="3.26" height="22.50" fill="#0c8bf2"/><rect x="1889.54" y="251.60" width="3.26" height="22.50" fill="#0caef2"/><rect x="1892.50" y="251.60" width="3.26" height="22.50" fill="#0ce6f2"/><rect x="1895.46" y="251.60" width="3.26" height="22.50" fill="#56f4a8"/><rect x="1898.43" y="251.60" width="3.26" height="22.50" fill="#d2f42c"/><rect x="1901.39" y="251.60" width="3.26" height="22.50" fill="#f2870c"/><rect x="1904.35" y="251.60" width="3.26" height="22.50" fill="#eb0a0c"/><rect x="1907.31" y="251.60" width="3.26" height="22.50" fill="#940a0c"/><rect x="1910.27" y="251.60" width="3.26" height="22.50" fill="#810a0c"/><rect x="1913.24" y="251.60" width="3.26" height="22.50" fill="#b80a0c"/><rect x="1916.20" y="251.60" width="3.26" height="22.50" fill="#f2410c"/><rect x="1919.16" y="251.60" width="3.26" height="22.50" fill="#f2cb0c"/><rect x="1922.12" y="251.60" width="3.26" height="22.50" fill="#92f46c"/><rect x="1925.08" y="251.60" width="3.26" height="22.50" fill="#24f4da"/><rect x="1928.04" y="251.60" width="3.26" height="22.50" fill="#0cbdf2"/><rect x="1931.01" y="251.60" width="3.26" height="22.50" fill="#0c91f2"/><rect x="1933.97" y="251.60" width="3.26" height="22.50" fill="#0c71f2"/><rect x="1936.93" y="251.60" width="3.26" height="22.50" fill="#0c67f2"/><rect x="1939.89" y="251.60" width="3.26" height="22.50" fill="#0c67f2"/><rect x="1942.85" y="251.60" width="3.26" height="22.50" fill="#0c6af2"/><rect x="1945.81" y="251.60" width="3.26" height="22.50" fill="#0c67f2"/><rect x="1948.78" y="251.60" width="3.26" height="22.50" fill="#0c5bf2"/><rect x="1951.74" y="251.60" width="3.26" height="22.50" fill="#0c62f2"/><rect x="1954.70" y="251.60" width="3.26" height="22.50" fill="#0c66f2"/><rect x="1957.66" y="251.60" width="3.26" height="22.50" fill="#0c65f2"/><rect x="1960.62" y="251.60" width="3.26" height="22.50" fill="#0c6ef2"/><rect x="1963.58" y="251.60" width="3.26" height="22.50" fill="#0c79f2"/><rect x="1966.55" y="251.60" width="3.26" height="22.50" fill="#0c76f2"/><rect x="1969.51" y="251.60" width="3.26" height="22.50" fill="#0c76f2"/><rect x="1972.47" y="251.60" width="3.26" height="22.50" fill="#0c71f2"/><rect x="1975.43" y="251.60" width="3.26" height="22.50" fill="#0c6df2"/><rect x="1978.39" y="251.60" width="3.26" height="22.50" fill="#0c65f2"/><rect x="1981.35" y="251.60" width="3.26" height="22.50" fill="#0c62f2"/><rect x="1984.32" y="251.60" width="3.26" height="22.50" fill="#0c61f2"/><rect x="1987.28" y="251.60" width="3.26" height="22.50" fill="#0c67f2"/><rect x="1990.24" y="251.60" width="3.26" height="22.50" fill="#0c66f2"/><rect x="1815.50" y="273.80" width="3.26" height="23.20" fill="#f2de0c"/><rect x="1818.46" y="273.80" width="3.26" height="23.20" fill="#f2c40c"/><rect x="1821.42" y="273.80" width="3.26" height="23.20" fill="#cdf431"/><rect x="1824.38" y="273.80" width="3.26" height="23.20" fill="#65f499"/><rect x="1827.35" y="273.80" width="3.26" height="23.20" fill="#27f4d7"/><rect x="1830.31" y="273.80" width="3.26" height="23.20" fill="#0ce0f2"/><rect x="1833.27" y="273.80" width="3.26" height="23.20" fill="#0ca6f2"/><rect x="1836.23" y="273.80" width="3.26" height="23.20" fill="#0c82f2"/><rect x="1839.19" y="273.80" width="3.26" height="23.20" fill="#0c76f2"/><rect x="1842.15" y="273.80" width="3.26" height="23.20" fill="#0c78f2"/><rect x="1845.12" y="273.80" width="3.26" height="23.20" fill="#0c71f2"/><rect x="1848.08" y="273.80" width="3.26" height="23.20" fill="#0c70f2"/><rect x="1851.04" y="273.80" width="3.26" height="23.20" fill="#0c70f2"/><rect x="1854.00" y="273.80" width="3.26" height="23.20" fill="#0c70f2"/><rect x="1856.96" y="273.80" width="3.26" height="23.20" fill="#0c65f2"/><rect x="1859.92" y="273.80" width="3.26" height="23.20" fill="#0c5ff2"/><rect x="1862.89" y="273.80" width="3.26" height="23.20" fill="#0c65f2"/><rect x="1865.85" y="273.80" width="3.26" height="23.20" fill="#0c61f2"/><rect x="1868.81" y="273.80" width="3.26" height="23.20" fill="#0c63f2"/><rect x="1871.77" y="273.80" width="3.26" height="23.20" fill="#0c6bf2"/><rect x="1874.73" y="273.80" width="3.26" height="23.20" fill="#0c75f2"/><rect x="1877.69" y="273.80" width="3.26" height="23.20" fill="#0c7af2"/><rect x="1880.66" y="273.80" width="3.26" height="23.20" fill="#0c7df2"/><rect x="1883.62" y="273.80" width="3.26" height="23.20" fill="#0c79f2"/><rect x="1886.58" y="273.80" width="3.26" height="23.20" fill="#0c81f2"/><rect x="1889.54" y="273.80" width="3.26" height="23.20" fill="#0c91f2"/><rect x="1892.50" y="273.80" width="3.26" height="23.20" fill="#0ca6f2"/><rect x="1895.46" y="273.80" width="3.26" height="23.20" fill="#0cd2f2"/><rect x="1898.43" y="273.80" width="3.26" height="23.20" fill="#36f4c8"/><rect x="1901.39" y="273.80" width="3.26" height="23.20" fill="#96f468"/><rect x="1904.35" y="273.80" width="3.26" height="23.20" fill="#f2d80c"/><rect x="1907.31" y="273.80" width="3.26" height="23.20" fill="#f2570c"/><rect x="1910.27" y="273.80" width="3.26" height="23.20" fill="#d00a0c"/><rect x="1913.24" y="273.80" width="3.26" height="23.20" fill="#8d0a0c"/><rect x="1916.20" y="273.80" width="3.26" height="23.20" fill="#820a0c"/><rect x="1919.16" y="273.80" width="3.26" height="23.20" fill="#b40a0c"/><rect x="1922.12" y="273.80" width="3.26" height="23.20" fill="#f22d0c"/><rect x="1925.08" y="273.80" width="3.26" height="23.20" fill="#f2ab0c"/><rect x="1928.04" y="273.80" width="3.26" height="23.20" fill="#baf444"/><rect x="1931.01" y="273.80" width="3.26" height="23.20" fill="#56f4a8"/><rect x="1933.97" y="273.80" width="3.26" height="23.20" fill="#0ceaf2"/><rect x="1936.93" y="273.80" width="3.26" height="23.20" fill="#0cb0f2"/><rect x="1939.89" y="273.80" width="3.26" height="23.20" fill="#0c92f2"/><rect x="1942.85" y="273.80" width="3.26" height="23.20" fill="#0c83f2"/><rect x="1945.81" y="273.80" width="3.26" height="23.20" fill="#0c74f2"/><rect x="1948.78" y="273.80" width="3.26" height="23.20" fill="#0c6af2"/><rect x="1951.74" y="273.80" width="3.26" height="23.20" fill="#0c6bf2"/><rect x="1954.70" y="273.80" width="3.26" height="23.20" fill="#0c65f2"/><rect x="1957.66" y="273.80" width="3.26" height="23.20" fill="#0c66f2"/><rect x="1960.62" y="273.80" width="3.26" height="23.20" fill="#0c67f2"/><rect x="1963.58" y="273.80" width="3.26" height="23.20" fill="#0c66f2"/><rect x="1966.55" y="273.80" width="3.26" height="23.20" fill="#0c66f2"/><rect x="1969.51" y="273.80" width="3.26" height="23.20" fill="#0c68f2"/><rect x="1972.47" y="273.80" width="3.26" height="23.20" fill="#0c66f2"/><rect x="1975.43" y="273.80" width="3.26" height="23.20" fill="#0c65f2"/><rect x="1978.39" y="273.80" width="3.26" height="23.20" fill="#0c65f2"/><rect x="1981.35" y="273.80" width="3.26" height="23.20" fill="#0c5df2"/><rect x="1984.32" y="273.80" width="3.26" height="23.20" fill="#0c67f2"/><rect x="1987.28" y="273.80" width="3.26" height="23.20" fill="#0c69f2"/><rect x="1990.24" y="273.80" width="3.26" height="23.20" fill="#0c6af2"/><rect x="1815.50" y="296.70" width="3.26" height="23.10" fill="#0cacf2"/><rect x="1818.46" y="296.70" width="3.26" height="23.10" fill="#0cc5f2"/><rect x="1821.42" y="296.70" width="3.26" height="23.10" fill="#0ce7f2"/><rect x="1824.38" y="296.70" width="3.26" height="23.10" fill="#18f4e6"/><rect x="1827.35" y="296.70" width="3.26" height="23.10" fill="#26f4d8"/><rect x="1830.31" y="296.70" width="3.26" height="23.10" fill="#15f4e9"/><rect x="1833.27" y="296.70" width="3.26" height="23.10" fill="#0cdef2"/><rect x="1836.23" y="296.70" width="3.26" height="23.10" fill="#0cbaf2"/><rect x="1839.19" y="296.70" width="3.26" height="23.10" fill="#0ca0f2"/><rect x="1842.15" y="296.70" width="3.26" height="23.10" fill="#0c88f2"/><rect x="1845.12" y="296.70" width="3.26" height="23.10" fill="#0c7cf2"/><rect x="1848.08" y="296.70" width="3.26" height="23.10" fill="#0c73f2"/><rect x="1851.04" y="296.70" width="3.26" height="23.10" fill="#0c70f2"/><rect x="1854.00" y="296.70" width="3.26" height="23.10" fill="#0c6ff2"/><rect x="1856.96" y="296.70" width="3.26" height="23.10" fill="#0c6df2"/><rect x="1859.92" y="296.70" width="3.26" height="23.10" fill="#0c71f2"/><rect x="1862.89" y="296.70" width="3.26" height="23.10" fill="#0c74f2"/><rect x="1865.85" y="296.70" width="3.26" height="23.10" fill="#0c74f2"/><rect x="1868.81" y="296.70" width="3.26" height="23.10" fill="#0c72f2"/><rect x="1871.77" y="296.70" width="3.26" height="23.10" fill="#0c73f2"/><rect x="1874.73" y="296.70" width="3.26" height="23.10" fill="#0c74f2"/><rect x="1877.69" y="296.70" width="3.26" height="23.10" fill="#0c75f2"/><rect x="1880.66" y="296.70" width="3.26" height="23.10" fill="#0c75f2"/><rect x="1883.62" y="296.70" width="3.26" height="23.10" fill="#0c75f2"/><rect x="1886.58" y="296.70" width="3.26" height="23.10" fill="#0c74f2"/><rect x="1889.54" y="296.70" width="3.26" height="23.10" fill="#0c72f2"/><rect x="1892.50" y="296.70" width="3.26" height="23.10" fill="#0c79f2"/><rect x="1895.46" y="296.70" width="3.26" height="23.10" fill="#0c86f2"/><rect x="1898.43" y="296.70" width="3.26" height="23.10" fill="#0c9df2"/><rect x="1901.39" y="296.70" width="3.26" height="23.10" fill="#0ccef2"/><rect x="1904.35" y="296.70" width="3.26" height="23.10" fill="#34f4ca"/><rect x="1907.31" y="296.70" width="3.26" height="23.10" fill="#9df461"/><rect x="1910.27" y="296.70" width="3.26" height="23.10" fill="#f2c60c"/><rect x="1913.24" y="296.70" width="3.26" height="23.10" fill="#f23d0c"/><rect x="1916.20" y="296.70" width="3.26" height="23.10" fill="#bb0a0c"/><rect x="1919.16" y="296.70" width="3.26" height="23.10" fill="#830a0c"/><rect x="1922.12" y="296.70" width="3.26" height="23.10" fill="#8d0a0c"/><rect x="1925.08" y="296.70" width="3.26" height="23.10" fill="#d40a0c"/><rect x="1928.04" y="296.70" width="3.26" height="23.10" fill="#f2620c"/><rect x="1931.01" y="296.70" width="3.26" height="23.10" fill="#f2e90c"/><rect x="1933.97" y="296.70" width="3.26" height="23.10" fill="#7cf482"/><rect x="1936.93" y="296.70" width="3.26" height="23.10" fill="#17f4e7"/><rect x="1939.89" y="296.70" width="3.26" height="23.10" fill="#0cbbf2"/><rect x="1942.85" y="296.70" width="3.26" height="23.10" fill="#0c8ff2"/><rect x="1945.81" y="296.70" width="3.26" height="23.10" fill="#0c72f2"/><rect x="1948.78" y="296.70" width="3.26" height="23.10" fill="#0c64f2"/><rect x="1951.74" y="296.70" width="3.26" height="23.10" fill="#0c65f2"/><rect x="1954.70" y="296.70" width="3.26" height="23.10" fill="#0c60f2"/><rect x="1957.66" y="296.70" width="3.26" height="23.10" fill="#0c64f2"/><rect x="1960.62" y="296.70" width="3.26" height="23.10" fill="#0c6ff2"/><rect x="1963.58" y="296.70" width="3.26" height="23.10" fill="#0c71f2"/><rect x="1966.55" y="296.70" width="3.26" height="23.10" fill="#0c6ff2"/><rect x="1969.51" y="296.70" width="3.26" height="23.10" fill="#0c75f2"/><rect x="1972.47" y="296.70" width="3.26" height="23.10" fill="#0c6cf2"/><rect x="1975.43" y="296.70" width="3.26" height="23.10" fill="#0c66f2"/><rect x="1978.39" y="296.70" width="3.26" height="23.10" fill="#0c63f2"/><rect x="1981.35" y="296.70" width="3.26" height="23.10" fill="#0c5ff2"/><rect x="1984.32" y="296.70" width="3.26" height="23.10" fill="#0c5ff2"/><rect x="1987.28" y="296.70" width="3.26" height="23.10" fill="#0c62f2"/><rect x="1990.24" y="296.70" width="3.26" height="23.10" fill="#0c66f2"/><rect x="1815.50" y="319.50" width="3.26" height="10.60" fill="#0c6df2"/><rect x="1818.46" y="319.50" width="3.26" height="10.60" fill="#0c69f2"/><rect x="1821.42" y="319.50" width="3.26" height="10.60" fill="#0c70f2"/><rect x="1824.38" y="319.50" width="3.26" height="10.60" fill="#0c7cf2"/><rect x="1827.35" y="319.50" width="3.26" height="10.60" fill="#0c99f2"/><rect x="1830.31" y="319.50" width="3.26" height="10.60" fill="#0cb0f2"/><rect x="1833.27" y="319.50" width="3.26" height="10.60" fill="#0cc9f2"/><rect x="1836.23" y="319.50" width="3.26" height="10.60" fill="#0cd1f2"/><rect x="1839.19" y="319.50" width="3.26" height="10.60" fill="#0cbbf2"/><rect x="1842.15" y="319.50" width="3.26" height="10.60" fill="#0ca1f2"/><rect x="1845.12" y="319.50" width="3.26" height="10.60" fill="#0c88f2"/><rect x="1848.08" y="319.50" width="3.26" height="10.60" fill="#0c75f2"/><rect x="1851.04" y="319.50" width="3.26" height="10.60" fill="#0c70f2"/><rect x="1854.00" y="319.50" width="3.26" height="10.60" fill="#0c76f2"/><rect x="1856.96" y="319.50" width="3.26" height="10.60" fill="#0c72f2"/><rect x="1859.92" y="319.50" width="3.26" height="10.60" fill="#0c6ff2"/><rect x="1862.89" y="319.50" width="3.26" height="10.60" fill="#0c78f2"/><rect x="1865.85" y="319.50" width="3.26" height="10.60" fill="#0c76f2"/><rect x="1868.81" y="319.50" width="3.26" height="10.60" fill="#0c70f2"/><rect x="1871.77" y="319.50" width="3.26" height="10.60" fill="#0c71f2"/><rect x="1874.73" y="319.50" width="3.26" height="10.60" fill="#0c7bf2"/><rect x="1877.69" y="319.50" width="3.26" height="10.60" fill="#0c78f2"/><rect x="1880.66" y="319.50" width="3.26" height="10.60" fill="#0c76f2"/><rect x="1883.62" y="319.50" width="3.26" height="10.60" fill="#0c76f2"/><rect x="1886.58" y="319.50" width="3.26" height="10.60" fill="#0c79f2"/><rect x="1889.54" y="319.50" width="3.26" height="10.60" fill="#0c72f2"/><rect x="1892.50" y="319.50" width="3.26" height="10.60" fill="#0c6ef2"/><rect x="1895.46" y="319.50" width="3.26" height="10.60" fill="#0c79f2"/><rect x="1898.43" y="319.50" width="3.26" height="10.60" fill="#0c86f2"/><rect x="1901.39" y="319.50" width="3.26" height="10.60" fill="#0c96f2"/><rect x="1904.35" y="319.50" width="3.26" height="10.60" fill="#0cb7f2"/><rect x="1907.31" y="319.50" width="3.26" height="10.60" fill="#0ce9f2"/><rect x="1910.27" y="319.50" width="3.26" height="10.60" fill="#3df4c1"/><rect x="1913.24" y="319.50" width="3.26" height="10.60" fill="#92f46c"/><rect x="1916.20" y="319.50" width="3.26" height="10.60" fill="#eef410"/><rect x="1919.16" y="319.50" width="3.26" height="10.60" fill="#f28c0c"/><rect x="1922.12" y="319.50" width="3.26" height="10.60" fill="#f2260c"/><rect x="1925.08" y="319.50" width="3.26" height="10.60" fill="#bc0a0c"/><rect x="1928.04" y="319.50" width="3.26" height="10.60" fill="#8a0a0c"/><rect x="1931.01" y="319.50" width="3.26" height="10.60" fill="#800a0c"/><rect x="1933.97" y="319.50" width="3.26" height="10.60" fill="#a00a0c"/><rect x="1936.93" y="319.50" width="3.26" height="10.60" fill="#e40a0c"/><rect x="1939.89" y="319.50" width="3.26" height="10.60" fill="#f25b0c"/><rect x="1942.85" y="319.50" width="3.26" height="10.60" fill="#f2c40c"/><rect x="1945.81" y="319.50" width="3.26" height="10.60" fill="#b6f448"/><rect x="1948.78" y="319.50" width="3.26" height="10.60" fill="#54f4aa"/><rect x="1951.74" y="319.50" width="3.26" height="10.60" fill="#0df4f1"/><rect x="1954.70" y="319.50" width="3.26" height="10.60" fill="#0cc0f2"/><rect x="1957.66" y="319.50" width="3.26" height="10.60" fill="#0c9ef2"/><rect x="1960.62" y="319.50" width="3.26" height="10.60" fill="#0c87f2"/><rect x="1963.58" y="319.50" width="3.26" height="10.60" fill="#0c81f2"/><rect x="1966.55" y="319.50" width="3.26" height="10.60" fill="#0c79f2"/><rect x="1969.51" y="319.50" width="3.26" height="10.60" fill="#0c75f2"/><rect x="1972.47" y="319.50" width="3.26" height="10.60" fill="#0c70f2"/><rect x="1975.43" y="319.50" width="3.26" height="10.60" fill="#0c70f2"/><rect x="1978.39" y="319.50" width="3.26" height="10.60" fill="#0c6ff2"/><rect x="1981.35" y="319.50" width="3.26" height="10.60" fill="#0c68f2"/><rect x="1984.32" y="319.50" width="3.26" height="10.60" fill="#0c68f2"/><rect x="1987.28" y="319.50" width="3.26" height="10.60" fill="#0c62f2"/><rect x="1990.24" y="319.50" width="3.26" height="10.60" fill="#0c64f2"/></g>
<rect x="1815.50" y="59.50" width="177.70" height="270.30" fill="none" stroke="#203860" stroke-opacity="0.6" stroke-width="1"/>
<defs><linearGradient id="cb" x1="0" y1="0" x2="0" y2="1"><stop offset="0.00" stop-color="#7f0a0c"/><stop offset="0.05" stop-color="#ad0a0c"/><stop offset="0.10" stop-color="#db0a0c"/><stop offset="0.15" stop-color="#f2210c"/><stop offset="0.20" stop-color="#f2500c"/><stop offset="0.25" stop-color="#f27f0c"/><stop offset="0.30" stop-color="#f2ae0c"/><stop offset="0.35" stop-color="#f2dd0c"/><stop offset="0.40" stop-color="#dbf423"/><stop offset="0.45" stop-color="#adf451"/><stop offset="0.50" stop-color="#7ff47f"/><stop offset="0.55" stop-color="#51f4ad"/><stop offset="0.60" stop-color="#23f4db"/><stop offset="0.65" stop-color="#0cddf2"/><stop offset="0.70" stop-color="#0caef2"/><stop offset="0.75" stop-color="#0c7ff2"/><stop offset="0.80" stop-color="#0c50f2"/><stop offset="0.85" stop-color="#0c21f2"/><stop offset="0.90" stop-color="#0c0adb"/><stop offset="0.95" stop-color="#0c0aad"/><stop offset="1.00" stop-color="#0c0a7f"/></linearGradient></defs>
<rect x="1947.8" y="100.3" width="21.2" height="111" fill="url(#cb)" stroke="#fff" stroke-width="2.6"/>
<text transform="translate(10.36,35.70) scale(1.1246,1)" font-size="39.79" font-family="Liberation Serif, serif" font-style="normal" font-weight="normal" fill="#000" >a</text>
<text transform="translate(5.11,96.23) scale(0.9940,1)" font-size="36.67" font-family="Liberation Serif, serif" font-style="normal" font-weight="normal" fill="#000" >Non-Resonant</text>
<text transform="translate(4.39,146.41) scale(1.0985,1)" font-size="33.00" font-family="DejaVu Serif, serif" font-style="normal" font-weight="normal" fill="#000" >|</text>
<text transform="translate(18.74,148.26) scale(0.9851,1)" font-size="34.48" font-family="DejaVu Serif, serif" font-style="italic" font-weight="normal" fill="#000" >f</text>
<text transform="translate(38.13,148.18) scale(0.8083,1)" font-size="38.82" font-family="DejaVu Math TeX Gyre, DejaVu Serif, serif" font-style="normal" font-weight="normal" fill="#000" >⟩</text>
<text transform="translate(1.22,256.99) scale(1.1329,1)" font-size="33.10" font-family="DejaVu Serif, serif" font-style="normal" font-weight="normal" fill="#000" >|</text>
<text transform="translate(15.22,258.50) scale(0.8484,1)" font-size="33.89" font-family="DejaVu Serif, serif" font-style="italic" font-weight="normal" fill="#000" >X</text>
<text transform="translate(38.50,258.76) scale(0.7704,1)" font-size="38.94" font-family="DejaVu Math TeX Gyre, DejaVu Serif, serif" font-style="normal" font-weight="normal" fill="#000" >⟩</text>
<text transform="translate(4.06,476.31) scale(1.1742,1)" font-size="33.00" font-family="DejaVu Serif, serif" font-style="normal" font-weight="normal" fill="#000" >|</text>
<text transform="translate(16.81,477.57) scale(1.0184,1)" font-size="36.47" font-family="Liberation Serif, serif" font-style="normal" font-weight="normal" fill="#000" >0</text>
<text transform="translate(36.66,477.75) scale(0.8541,1)" font-size="38.35" font-family="DejaVu Math TeX Gyre, DejaVu Serif, serif" font-style="normal" font-weight="normal" fill="#000" >⟩</text>
<text transform="translate(136.23,214.43) scale(0.8869,1)" font-size="36.97" font-family="Liberation Serif, serif" font-style="italic" font-weight="normal" fill="#4674c6" >Γ</text>
<text transform="translate(149.23,221.90) scale(1.2275,1)" font-size="30.00" font-family="Liberation Serif, serif" font-style="italic" font-weight="normal" fill="#4674c6" >nr</text>
<text transform="translate(130.95,412.14) scale(0.9633,1)" font-size="35.91" font-family="Liberation Serif, serif" font-style="italic" font-weight="normal" fill="#c00000" >Γ</text>
<text transform="translate(143.83,420.30) scale(1.3429,1)" font-size="29.15" font-family="Liberation Serif, serif" font-style="italic" font-weight="normal" fill="#c00000" >r</text>
<text transform="translate(285.70,33.90) scale(1.1008,1)" font-size="40.29" font-family="Liberation Serif, serif" font-style="normal" font-weight="normal" fill="#000" >b</text>
<text transform="translate(276.45,166.10) scale(0.9879,1)" font-size="36.80" font-family="Liberation Serif, serif" font-style="normal" font-weight="normal" fill="#000" >Quasi-Resonant</text>
<text transform="translate(299.88,256.89) scale(1.0980,1)" font-size="29.60" font-family="DejaVu Serif, serif" font-style="normal" font-weight="normal" fill="#000" >|</text>
<text transform="translate(311.98,258.00) scale(0.8023,1)" font-size="30.69" font-family="DejaVu Serif, serif" font-style="italic" font-weight="normal" fill="#000" >X</text>
<text transform="translate(331.96,258.24) scale(0.7966,1)" font-size="33.76" font-family="DejaVu Math TeX Gyre, DejaVu Serif, serif" font-style="normal" font-weight="normal" fill="#000" >⟩</text>
<text transform="translate(302.32,478.61) scale(1.2712,1)" font-size="29.50" font-family="DejaVu Serif, serif" font-style="normal" font-weight="normal" fill="#000" >|</text>
<text transform="translate(314.03,479.14) scale(1.0316,1)" font-size="33.24" font-family="Liberation Serif, serif" font-style="normal" font-weight="normal" fill="#000" >0</text>
<text transform="translate(331.44,480.19) scale(0.7849,1)" font-size="34.71" font-family="DejaVu Math TeX Gyre, DejaVu Serif, serif" font-style="normal" font-weight="normal" fill="#000" >⟩</text>
<text transform="translate(407.91,232.35) scale(1.0616,1)" font-size="24.59" font-family="Liberation Sans, Arial, sans-serif" font-style="normal" font-weight="normal" fill="#0c0c18" >Phonons</text>
<text transform="translate(408.23,412.34) scale(0.9313,1)" font-size="35.91" font-family="Liberation Serif, serif" font-style="italic" font-weight="normal" fill="#c00000" >Γ</text>
<text transform="translate(420.83,420.30) scale(1.3429,1)" font-size="29.15" font-family="Liberation Serif, serif" font-style="italic" font-weight="normal" fill="#c00000" >r</text>
<text transform="translate(609.36,35.32) scale(1.1413,1)" font-size="38.13" font-family="Liberation Serif, serif" font-style="normal" font-weight="normal" fill="#000" >c</text>
<text transform="translate(608.12,81.41) scale(0.9979,1)" font-size="28.59" font-family="Liberation Sans, Arial, sans-serif" font-style="normal" font-weight="normal" fill="#1c1c1c" stroke="#1c1c1c" stroke-width="0.45">1000</text>
<text transform="translate(623.71,155.32) scale(1.0508,1)" font-size="28.31" font-family="Liberation Sans, Arial, sans-serif" font-style="normal" font-weight="normal" fill="#1c1c1c" stroke="#1c1c1c" stroke-width="0.45">800</text>
<text transform="translate(623.40,227.12) scale(1.0789,1)" font-size="27.75" font-family="Liberation Sans, Arial, sans-serif" font-style="normal" font-weight="normal" fill="#1c1c1c" stroke="#1c1c1c" stroke-width="0.45">600</text>
<text transform="translate(623.81,301.32) scale(1.0700,1)" font-size="27.75" font-family="Liberation Sans, Arial, sans-serif" font-style="normal" font-weight="normal" fill="#1c1c1c" stroke="#1c1c1c" stroke-width="0.45">400</text>
<text transform="translate(623.40,375.32) scale(1.0681,1)" font-size="28.03" font-family="Liberation Sans, Arial, sans-serif" font-style="normal" font-weight="normal" fill="#1c1c1c" stroke="#1c1c1c" stroke-width="0.45">200</text>
<text transform="translate(655.97,449.23) scale(1.1226,1)" font-size="27.46" font-family="Liberation Sans, Arial, sans-serif" font-style="normal" font-weight="normal" fill="#1c1c1c" stroke="#1c1c1c" stroke-width="0.45">0</text>
<text transform="translate(688.29,512.72) scale(1.0724,1)" font-size="28.17" font-family="Liberation Sans, Arial, sans-serif" font-style="normal" font-weight="normal" fill="#1c1c1c" stroke="#1c1c1c" stroke-width="0.45">0</text>
<text transform="translate(860.72,512.61) scale(1.0308,1)" font-size="28.73" font-family="Liberation Sans, Arial, sans-serif" font-style="normal" font-weight="normal" fill="#1c1c1c" stroke="#1c1c1c" stroke-width="0.45">0.5</text>
<text transform="translate(1057.96,512.70) scale(0.9674,1)" font-size="30.29" font-family="Liberation Sans, Arial, sans-serif" font-style="normal" font-weight="normal" fill="#1c1c1c" stroke="#1c1c1c" stroke-width="0.45">1</text>
<text transform="translate(1231.19,512.61) scale(0.9916,1)" font-size="29.14" font-family="Liberation Sans, Arial, sans-serif" font-style="normal" font-weight="normal" fill="#1c1c1c" stroke="#1c1c1c" stroke-width="0.45">1.5</text>
<text transform="translate(906.18,555.10) scale(1.0420,1)" font-size="30.50" font-family="Liberation Sans, Arial, sans-serif" font-style="normal" font-weight="normal" fill="#1c1c1c" stroke="#1c1c1c" stroke-width="0.45">time (ns)</text>
<text transform="translate(594.77,304.80) rotate(-90) scale(0.9745,1)" font-size="32.82" font-family="Liberation Sans, Arial, sans-serif" font-style="normal" font-weight="normal" fill="#1c1c1c" stroke="#1c1c1c" stroke-width="0.45">Counts</text>
<text transform="translate(985.91,76.00) scale(1.0593,1)" font-size="24.30" font-family="Liberation Sans, Arial, sans-serif" font-style="normal" font-weight="normal" fill="#1c1c1c" stroke="#1c1c1c" stroke-width="0.45">QDs in bulk</text>
<text transform="translate(985.89,108.30) scale(1.0781,1)" font-size="24.30" font-family="Liberation Sans, Arial, sans-serif" font-style="normal" font-weight="normal" fill="#1c1c1c" stroke="#1c1c1c" stroke-width="0.45">QD-waveguide (data)</text>
<text transform="translate(985.89,140.40) scale(1.0789,1)" font-size="24.30" font-family="Liberation Sans, Arial, sans-serif" font-style="normal" font-weight="normal" fill="#1c1c1c" stroke="#1c1c1c" stroke-width="0.45">QD-waveguide (fit)</text>
<text transform="translate(985.25,173.90) scale(1.0761,1)" font-size="24.30" font-family="Liberation Sans, Arial, sans-serif" font-style="normal" font-weight="normal" fill="#1c1c1c" stroke="#1c1c1c" stroke-width="0.45">IRF</text>
<text transform="translate(1340.39,35.60) scale(1.0846,1)" font-size="40.29" font-family="Liberation Serif, serif" font-style="normal" font-weight="normal" fill="#000" >d</text>
<text transform="translate(1383.30,53.03) scale(1.1188,1)" font-size="26.90" font-family="Liberation Sans, Arial, sans-serif" font-style="normal" font-weight="normal" fill="#1c1c1c" stroke="#1c1c1c" stroke-width="0.45">25</text>
<text transform="translate(1386.33,141.64) scale(1.0400,1)" font-size="26.48" font-family="Liberation Sans, Arial, sans-serif" font-style="normal" font-weight="normal" fill="#1c1c1c" stroke="#1c1c1c" stroke-width="0.45">20</text>
<text transform="translate(1384.03,230.21) scale(1.0400,1)" font-size="29.00" font-family="Liberation Sans, Arial, sans-serif" font-style="normal" font-weight="normal" fill="#1c1c1c" stroke="#1c1c1c" stroke-width="0.45">15</text>
<text transform="translate(1385.12,318.22) scale(1.0400,1)" font-size="27.75" font-family="Liberation Sans, Arial, sans-serif" font-style="normal" font-weight="normal" fill="#1c1c1c" stroke="#1c1c1c" stroke-width="0.45">10</text>
<text transform="translate(1400.74,406.42) scale(1.0449,1)" font-size="27.71" font-family="Liberation Sans, Arial, sans-serif" font-style="normal" font-weight="normal" fill="#1c1c1c" stroke="#1c1c1c" stroke-width="0.45">5</text>
<text transform="translate(1400.74,493.91) scale(1.0054,1)" font-size="28.80" font-family="Liberation Sans, Arial, sans-serif" font-style="normal" font-weight="normal" fill="#1c1c1c" stroke="#1c1c1c" stroke-width="0.45">0</text>
<text transform="translate(1400.85,521.61) scale(0.9876,1)" font-size="29.30" font-family="Liberation Sans, Arial, sans-serif" font-style="normal" font-weight="normal" fill="#1c1c1c" stroke="#1c1c1c" stroke-width="0.45">911</text>
<text transform="translate(1537.00,521.61) scale(1.0270,1)" font-size="29.30" font-family="Liberation Sans, Arial, sans-serif" font-style="normal" font-weight="normal" fill="#1c1c1c" stroke="#1c1c1c" stroke-width="0.45">911.5</text>
<text transform="translate(1695.80,521.80) scale(1.0143,1)" font-size="29.58" font-family="Liberation Sans, Arial, sans-serif" font-style="normal" font-weight="normal" fill="#1c1c1c" stroke="#1c1c1c" stroke-width="0.45">912</text>
<text transform="translate(1831.54,521.61) scale(1.0082,1)" font-size="29.01" font-family="Liberation Sans, Arial, sans-serif" font-style="normal" font-weight="normal" fill="#1c1c1c" stroke="#1c1c1c" stroke-width="0.45">912.5</text>
<text transform="translate(1991.95,521.71) scale(0.9847,1)" font-size="29.44" font-family="Liberation Sans, Arial, sans-serif" font-style="normal" font-weight="normal" fill="#1c1c1c" stroke="#1c1c1c" stroke-width="0.45">913</text>
<text transform="translate(1600.60,563.40) scale(1.0887,1)" font-size="29.50" font-family="Liberation Sans, Arial, sans-serif" font-style="normal" font-weight="normal" fill="#1c1c1c" stroke="#1c1c1c" stroke-width="0.45">Wavelength (nm)</text>
<text transform="translate(1371.29,362.26) rotate(-90) scale(1.0730,1)" font-size="30.95" font-family="Liberation Sans, Arial, sans-serif" font-style="normal" font-weight="normal" fill="#1c1c1c" stroke="#1c1c1c" stroke-width="0.45">Purcell factor</text>
<text transform="translate(1518.19,77.80) scale(1.0336,1)" font-size="25.30" font-family="Liberation Sans, Arial, sans-serif" font-style="normal" font-weight="normal" fill="#1c1c1c" stroke="#1c1c1c" stroke-width="0.45">Quasi-Resonant</text>
<text transform="translate(1517.90,110.90) scale(1.0372,1)" font-size="25.30" font-family="Liberation Sans, Arial, sans-serif" font-style="normal" font-weight="normal" fill="#1c1c1c" stroke="#1c1c1c" stroke-width="0.45">Non-Resonant</text>
<text transform="translate(1935.81,91.13) scale(0.9422,1)" font-size="27.09" font-family="Liberation Sans, Arial, sans-serif" font-style="normal" font-weight="normal" fill="#fff" >max</text>
<text transform="translate(1936.98,236.70) scale(1.0160,1)" font-size="27.00" font-family="Liberation Sans, Arial, sans-serif" font-style="normal" font-weight="normal" fill="#fff" >min</text>
<text transform="translate(1772.72,90.70) scale(1.0599,1)" font-size="20.42" font-family="Liberation Sans, Arial, sans-serif" font-style="normal" font-weight="normal" fill="#1c1c1c" stroke="#1c1c1c" stroke-width="0.45">600</text>
<text transform="translate(1772.94,135.20) scale(1.0605,1)" font-size="20.28" font-family="Liberation Sans, Arial, sans-serif" font-style="normal" font-weight="normal" fill="#1c1c1c" stroke="#1c1c1c" stroke-width="0.45">800</text>
<text transform="translate(1761.42,181.09) scale(1.0027,1)" font-size="20.99" font-family="Liberation Sans, Arial, sans-serif" font-style="normal" font-weight="normal" fill="#1c1c1c" stroke="#1c1c1c" stroke-width="0.45">1000</text>
<text transform="translate(1761.42,225.80) scale(1.0375,1)" font-size="20.28" font-family="Liberation Sans, Arial, sans-serif" font-style="normal" font-weight="normal" fill="#1c1c1c" stroke="#1c1c1c" stroke-width="0.45">1200</text>
<text transform="translate(1761.42,271.10) scale(1.0304,1)" font-size="20.42" font-family="Liberation Sans, Arial, sans-serif" font-style="normal" font-weight="normal" fill="#1c1c1c" stroke="#1c1c1c" stroke-width="0.45">1400</text>
<text transform="translate(1761.42,316.09) scale(1.0233,1)" font-size="20.56" font-family="Liberation Sans, Arial, sans-serif" font-style="normal" font-weight="normal" fill="#1c1c1c" stroke="#1c1c1c" stroke-width="0.45">1600</text>
<text transform="translate(1797.19,358.99) scale(1.0610,1)" font-size="20.99" font-family="Liberation Sans, Arial, sans-serif" font-style="normal" font-weight="normal" fill="#1c1c1c" stroke="#1c1c1c" stroke-width="0.45">911</text>
<text transform="translate(1886.31,358.99) scale(1.0350,1)" font-size="20.99" font-family="Liberation Sans, Arial, sans-serif" font-style="normal" font-weight="normal" fill="#1c1c1c" stroke="#1c1c1c" stroke-width="0.45">912</text>
<text transform="translate(1975.42,358.99) scale(1.0254,1)" font-size="20.99" font-family="Liberation Sans, Arial, sans-serif" font-style="normal" font-weight="normal" fill="#1c1c1c" stroke="#1c1c1c" stroke-width="0.45">913</text>
<text transform="translate(1815.70,388.90) scale(1.1082,1)" font-size="21.40" font-family="Liberation Sans, Arial, sans-serif" font-style="normal" font-weight="normal" fill="#1c1c1c" stroke="#1c1c1c" stroke-width="0.45">Wavelength (nm)</text>
<text transform="translate(1751.32,295.42) rotate(-90) scale(1.0091,1)" font-size="23.72" font-family="Liberation Sans, Arial, sans-serif" font-style="normal" font-weight="normal" fill="#1c1c1c" stroke="#1c1c1c" stroke-width="0.45">Reverse Bias (mV)</text></svg>
</body></html>
